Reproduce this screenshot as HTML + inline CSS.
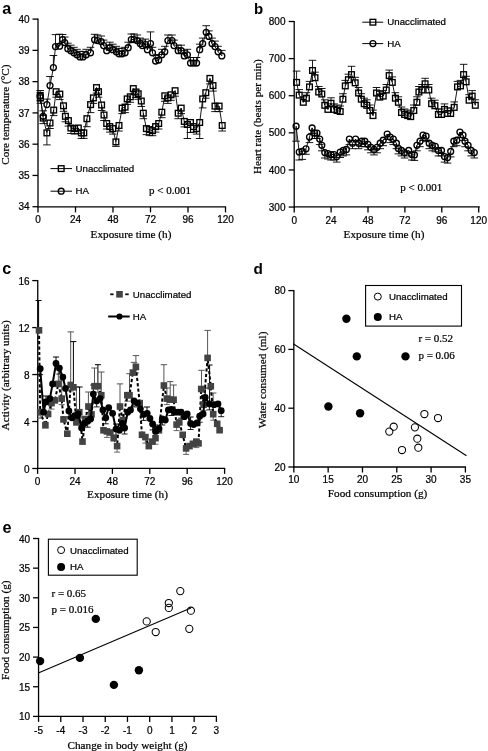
<!DOCTYPE html>
<html><head><meta charset="utf-8"><style>
html,body{margin:0;padding:0;background:#fff;}
body{width:488px;height:751px;overflow:hidden;}
svg{display:block;}
#wrap{will-change:transform;}
</style></head><body>
<div id="wrap"><svg width="488" height="751" viewBox="0 0 488 751">
<rect width="488" height="751" fill="#fff"/>
<text x="2.3" y="14.3" style='font-family:"Liberation Sans", sans-serif;font-size:16.2px;font-weight:bold' text-anchor="start" fill="#000">a</text>
<line x1="38" y1="18.5" x2="38" y2="207.3" stroke="#000" stroke-width="1.3" />
<line x1="32.5" y1="19.1" x2="38" y2="19.1" stroke="#000" stroke-width="1.3" />
<text x="29.6" y="22.7" style='font-family:"Liberation Sans", sans-serif;font-size:10px;font-weight:normal' text-anchor="end" fill="#000" stroke="#000" stroke-width="0.22">40</text>
<line x1="32.5" y1="50.37" x2="38" y2="50.37" stroke="#000" stroke-width="1.3" />
<text x="29.6" y="53.97" style='font-family:"Liberation Sans", sans-serif;font-size:10px;font-weight:normal' text-anchor="end" fill="#000" stroke="#000" stroke-width="0.22">39</text>
<line x1="32.5" y1="81.64" x2="38" y2="81.64" stroke="#000" stroke-width="1.3" />
<text x="29.6" y="85.24" style='font-family:"Liberation Sans", sans-serif;font-size:10px;font-weight:normal' text-anchor="end" fill="#000" stroke="#000" stroke-width="0.22">38</text>
<line x1="32.5" y1="112.91" x2="38" y2="112.91" stroke="#000" stroke-width="1.3" />
<text x="29.6" y="116.51" style='font-family:"Liberation Sans", sans-serif;font-size:10px;font-weight:normal' text-anchor="end" fill="#000" stroke="#000" stroke-width="0.22">37</text>
<line x1="32.5" y1="144.18" x2="38" y2="144.18" stroke="#000" stroke-width="1.3" />
<text x="29.6" y="147.78" style='font-family:"Liberation Sans", sans-serif;font-size:10px;font-weight:normal' text-anchor="end" fill="#000" stroke="#000" stroke-width="0.22">36</text>
<line x1="32.5" y1="175.45" x2="38" y2="175.45" stroke="#000" stroke-width="1.3" />
<text x="29.6" y="179.05" style='font-family:"Liberation Sans", sans-serif;font-size:10px;font-weight:normal' text-anchor="end" fill="#000" stroke="#000" stroke-width="0.22">35</text>
<line x1="32.5" y1="206.72" x2="38" y2="206.72" stroke="#000" stroke-width="1.3" />
<text x="29.6" y="210.32" style='font-family:"Liberation Sans", sans-serif;font-size:10px;font-weight:normal' text-anchor="end" fill="#000" stroke="#000" stroke-width="0.22">34</text>
<line x1="37.4" y1="206.9" x2="226.1" y2="206.9" stroke="#000" stroke-width="1.3" />
<line x1="38" y1="206.9" x2="38" y2="212.4" stroke="#000" stroke-width="1.3" />
<text x="38" y="223.2" style='font-family:"Liberation Sans", sans-serif;font-size:10px;font-weight:normal' text-anchor="middle" fill="#000" stroke="#000" stroke-width="0.22">0</text>
<line x1="75.5" y1="206.9" x2="75.5" y2="212.4" stroke="#000" stroke-width="1.3" />
<text x="75.5" y="223.2" style='font-family:"Liberation Sans", sans-serif;font-size:10px;font-weight:normal' text-anchor="middle" fill="#000" stroke="#000" stroke-width="0.22">24</text>
<line x1="113" y1="206.9" x2="113" y2="212.4" stroke="#000" stroke-width="1.3" />
<text x="113" y="223.2" style='font-family:"Liberation Sans", sans-serif;font-size:10px;font-weight:normal' text-anchor="middle" fill="#000" stroke="#000" stroke-width="0.22">48</text>
<line x1="150.5" y1="206.9" x2="150.5" y2="212.4" stroke="#000" stroke-width="1.3" />
<text x="150.5" y="223.2" style='font-family:"Liberation Sans", sans-serif;font-size:10px;font-weight:normal' text-anchor="middle" fill="#000" stroke="#000" stroke-width="0.22">72</text>
<line x1="188" y1="206.9" x2="188" y2="212.4" stroke="#000" stroke-width="1.3" />
<text x="188" y="223.2" style='font-family:"Liberation Sans", sans-serif;font-size:10px;font-weight:normal' text-anchor="middle" fill="#000" stroke="#000" stroke-width="0.22">96</text>
<line x1="225.5" y1="206.9" x2="225.5" y2="212.4" stroke="#000" stroke-width="1.3" />
<text x="225.5" y="223.2" style='font-family:"Liberation Sans", sans-serif;font-size:10px;font-weight:normal' text-anchor="middle" fill="#000" stroke="#000" stroke-width="0.22">120</text>
<text x="131" y="238.3" style='font-family:"Liberation Serif", serif;font-size:11.2px;font-weight:normal' text-anchor="middle" fill="#000" stroke="#000" stroke-width="0.22">Exposure time (h)</text>
<text x="9.4" y="114.6" style='font-family:"Liberation Serif", serif;font-size:11.2px;font-weight:normal' text-anchor="middle" fill="#000" stroke="#000" stroke-width="0.22" transform="rotate(-90 9.4 114.6)">Core temperature (°C)</text>
<polyline points="40.2,96 43.2,116.3 46.9,104.6 50,85.5 53.4,67.5 55.5,46.6 59.6,46.2 62.6,39.5 64.7,42.5 67.8,48.7 70.8,50.7 73.9,52.8 77,54.8 80,56.9 83,56.9 86.2,54.8 90.5,52.8 94.6,39.8 97.5,40.5 101.2,41.5 103.6,45.6 106.7,50.7 109.8,47.7 112.8,49.7 116.3,51.8 119,53.8 122,53.8 125.1,52.8 128.2,47.7 131.3,39.5 134.1,39.5 137.2,40.5 140.2,43.6 142.3,45.6 145.4,44.6 147.4,49.7 150.5,43.6 152.5,52.8 155.6,61 158.7,60 161.8,54.8 164.8,51.8 167.9,40.5 172,40.5 174,45.6 178.2,50.7 181.2,50.7 184.3,55.9 187.4,54.8 190.5,63 193.5,63 196.6,63 199.7,49.7 202.7,43.6 206.2,32.3 208.9,36.4 212,43.6 215,46.6 218.1,51.8 221.8,55.9" fill="none" stroke="#000" stroke-width="0.9" stroke-linejoin="round" />
<polyline points="40.2,95.4 40.4,97.8 43.2,118.1 46.9,132.9 50,123 53.7,110.1 56.1,91.7 59.8,94.1 63.5,105.8 65.4,116.3 68.4,120.6 70.9,128 74.6,128.6 78.3,128 81.4,132.9 83.8,132.9 86.9,118.7 90.6,104.6 93.4,97.9 96.5,87.6 98.5,91.7 101.6,105 104,115 106.7,123.5 109.8,126.6 112.8,128.6 115.9,141.9 119,125.5 122.1,108.1 125.1,107.1 127.2,98.9 130.3,96.8 133.3,88.6 136,92 138.2,93.8 141.3,101 143.3,113.2 146.4,128.6 149.5,129.6 152.5,130.7 155.6,126.6 158.7,123.5 161.8,112.2 164.8,95.8 167.9,97.9 171,94.8 175.1,90.7 178.2,113.2 181.2,108.1 184.3,121.4 187.4,124.5 190.5,122.5 193.5,126.6 196.6,128.6 199.7,122.5 202.7,98.9 205.8,92.7 209.9,78.4 213,85.6 215,106.1 219.1,106.1 222.2,125.5" fill="none" stroke="#000" stroke-width="0.9" stroke-linejoin="round" />
<line x1="40.2" y1="96" x2="40.2" y2="90.5" stroke="#000" stroke-width="0.9" />
<line x1="36.4" y1="90.5" x2="44" y2="90.5" stroke="#000" stroke-width="0.9" />
<line x1="43.2" y1="116.3" x2="43.2" y2="110.8" stroke="#000" stroke-width="0.9" />
<line x1="39.4" y1="110.8" x2="47" y2="110.8" stroke="#000" stroke-width="0.9" />
<line x1="46.9" y1="104.6" x2="46.9" y2="99.1" stroke="#000" stroke-width="0.9" />
<line x1="43.1" y1="99.1" x2="50.7" y2="99.1" stroke="#000" stroke-width="0.9" />
<line x1="50" y1="85.5" x2="50" y2="76.5" stroke="#000" stroke-width="0.9" />
<line x1="46.2" y1="76.5" x2="53.8" y2="76.5" stroke="#000" stroke-width="0.9" />
<line x1="53.4" y1="67.5" x2="53.4" y2="55.5" stroke="#000" stroke-width="0.9" />
<line x1="49.6" y1="55.5" x2="57.2" y2="55.5" stroke="#000" stroke-width="0.9" />
<line x1="55.5" y1="46.6" x2="55.5" y2="34.6" stroke="#000" stroke-width="0.9" />
<line x1="51.7" y1="34.6" x2="59.3" y2="34.6" stroke="#000" stroke-width="0.9" />
<line x1="59.6" y1="46.2" x2="59.6" y2="34.2" stroke="#000" stroke-width="0.9" />
<line x1="55.8" y1="34.2" x2="63.4" y2="34.2" stroke="#000" stroke-width="0.9" />
<line x1="62.6" y1="39.5" x2="62.6" y2="34.5" stroke="#000" stroke-width="0.9" />
<line x1="58.8" y1="34.5" x2="66.4" y2="34.5" stroke="#000" stroke-width="0.9" />
<line x1="64.7" y1="42.5" x2="64.7" y2="37" stroke="#000" stroke-width="0.9" />
<line x1="60.9" y1="37" x2="68.5" y2="37" stroke="#000" stroke-width="0.9" />
<line x1="67.8" y1="48.7" x2="67.8" y2="43.2" stroke="#000" stroke-width="0.9" />
<line x1="64" y1="43.2" x2="71.6" y2="43.2" stroke="#000" stroke-width="0.9" />
<line x1="70.8" y1="50.7" x2="70.8" y2="45.2" stroke="#000" stroke-width="0.9" />
<line x1="67" y1="45.2" x2="74.6" y2="45.2" stroke="#000" stroke-width="0.9" />
<line x1="73.9" y1="52.8" x2="73.9" y2="47.3" stroke="#000" stroke-width="0.9" />
<line x1="70.1" y1="47.3" x2="77.7" y2="47.3" stroke="#000" stroke-width="0.9" />
<line x1="77" y1="54.8" x2="77" y2="49.3" stroke="#000" stroke-width="0.9" />
<line x1="73.2" y1="49.3" x2="80.8" y2="49.3" stroke="#000" stroke-width="0.9" />
<line x1="80" y1="56.9" x2="80" y2="51.4" stroke="#000" stroke-width="0.9" />
<line x1="76.2" y1="51.4" x2="83.8" y2="51.4" stroke="#000" stroke-width="0.9" />
<line x1="83" y1="56.9" x2="83" y2="51.4" stroke="#000" stroke-width="0.9" />
<line x1="79.2" y1="51.4" x2="86.8" y2="51.4" stroke="#000" stroke-width="0.9" />
<line x1="86.2" y1="54.8" x2="86.2" y2="49.3" stroke="#000" stroke-width="0.9" />
<line x1="82.4" y1="49.3" x2="90" y2="49.3" stroke="#000" stroke-width="0.9" />
<line x1="90.5" y1="52.8" x2="90.5" y2="47.3" stroke="#000" stroke-width="0.9" />
<line x1="86.7" y1="47.3" x2="94.3" y2="47.3" stroke="#000" stroke-width="0.9" />
<line x1="94.6" y1="39.8" x2="94.6" y2="34.3" stroke="#000" stroke-width="0.9" />
<line x1="90.8" y1="34.3" x2="98.4" y2="34.3" stroke="#000" stroke-width="0.9" />
<line x1="97.5" y1="40.5" x2="97.5" y2="35" stroke="#000" stroke-width="0.9" />
<line x1="93.7" y1="35" x2="101.3" y2="35" stroke="#000" stroke-width="0.9" />
<line x1="101.2" y1="41.5" x2="101.2" y2="36" stroke="#000" stroke-width="0.9" />
<line x1="97.4" y1="36" x2="105" y2="36" stroke="#000" stroke-width="0.9" />
<line x1="103.6" y1="45.6" x2="103.6" y2="40.1" stroke="#000" stroke-width="0.9" />
<line x1="99.8" y1="40.1" x2="107.4" y2="40.1" stroke="#000" stroke-width="0.9" />
<line x1="106.7" y1="50.7" x2="106.7" y2="45.2" stroke="#000" stroke-width="0.9" />
<line x1="102.9" y1="45.2" x2="110.5" y2="45.2" stroke="#000" stroke-width="0.9" />
<line x1="109.8" y1="47.7" x2="109.8" y2="42.2" stroke="#000" stroke-width="0.9" />
<line x1="106" y1="42.2" x2="113.6" y2="42.2" stroke="#000" stroke-width="0.9" />
<line x1="112.8" y1="49.7" x2="112.8" y2="44.2" stroke="#000" stroke-width="0.9" />
<line x1="109" y1="44.2" x2="116.6" y2="44.2" stroke="#000" stroke-width="0.9" />
<line x1="116.3" y1="51.8" x2="116.3" y2="46.3" stroke="#000" stroke-width="0.9" />
<line x1="112.5" y1="46.3" x2="120.1" y2="46.3" stroke="#000" stroke-width="0.9" />
<line x1="119" y1="53.8" x2="119" y2="48.3" stroke="#000" stroke-width="0.9" />
<line x1="115.2" y1="48.3" x2="122.8" y2="48.3" stroke="#000" stroke-width="0.9" />
<line x1="122" y1="53.8" x2="122" y2="48.3" stroke="#000" stroke-width="0.9" />
<line x1="118.2" y1="48.3" x2="125.8" y2="48.3" stroke="#000" stroke-width="0.9" />
<line x1="125.1" y1="52.8" x2="125.1" y2="47.3" stroke="#000" stroke-width="0.9" />
<line x1="121.3" y1="47.3" x2="128.9" y2="47.3" stroke="#000" stroke-width="0.9" />
<line x1="128.2" y1="47.7" x2="128.2" y2="42.2" stroke="#000" stroke-width="0.9" />
<line x1="124.4" y1="42.2" x2="132" y2="42.2" stroke="#000" stroke-width="0.9" />
<line x1="131.3" y1="39.5" x2="131.3" y2="34" stroke="#000" stroke-width="0.9" />
<line x1="127.5" y1="34" x2="135.1" y2="34" stroke="#000" stroke-width="0.9" />
<line x1="134.1" y1="39.5" x2="134.1" y2="34" stroke="#000" stroke-width="0.9" />
<line x1="130.3" y1="34" x2="137.9" y2="34" stroke="#000" stroke-width="0.9" />
<line x1="137.2" y1="40.5" x2="137.2" y2="35" stroke="#000" stroke-width="0.9" />
<line x1="133.4" y1="35" x2="141" y2="35" stroke="#000" stroke-width="0.9" />
<line x1="140.2" y1="43.6" x2="140.2" y2="38.1" stroke="#000" stroke-width="0.9" />
<line x1="136.4" y1="38.1" x2="144" y2="38.1" stroke="#000" stroke-width="0.9" />
<line x1="142.3" y1="45.6" x2="142.3" y2="40.1" stroke="#000" stroke-width="0.9" />
<line x1="138.5" y1="40.1" x2="146.1" y2="40.1" stroke="#000" stroke-width="0.9" />
<line x1="145.4" y1="44.6" x2="145.4" y2="39.1" stroke="#000" stroke-width="0.9" />
<line x1="141.6" y1="39.1" x2="149.2" y2="39.1" stroke="#000" stroke-width="0.9" />
<line x1="147.4" y1="49.7" x2="147.4" y2="44.2" stroke="#000" stroke-width="0.9" />
<line x1="143.6" y1="44.2" x2="151.2" y2="44.2" stroke="#000" stroke-width="0.9" />
<line x1="150.5" y1="43.6" x2="150.5" y2="31.9" stroke="#000" stroke-width="0.9" />
<line x1="146.7" y1="31.9" x2="154.3" y2="31.9" stroke="#000" stroke-width="0.9" />
<line x1="152.5" y1="52.8" x2="152.5" y2="47.3" stroke="#000" stroke-width="0.9" />
<line x1="148.7" y1="47.3" x2="156.3" y2="47.3" stroke="#000" stroke-width="0.9" />
<line x1="155.6" y1="61" x2="155.6" y2="55.5" stroke="#000" stroke-width="0.9" />
<line x1="151.8" y1="55.5" x2="159.4" y2="55.5" stroke="#000" stroke-width="0.9" />
<line x1="158.7" y1="60" x2="158.7" y2="54.5" stroke="#000" stroke-width="0.9" />
<line x1="154.9" y1="54.5" x2="162.5" y2="54.5" stroke="#000" stroke-width="0.9" />
<line x1="161.8" y1="54.8" x2="161.8" y2="49.3" stroke="#000" stroke-width="0.9" />
<line x1="158" y1="49.3" x2="165.6" y2="49.3" stroke="#000" stroke-width="0.9" />
<line x1="164.8" y1="51.8" x2="164.8" y2="46.3" stroke="#000" stroke-width="0.9" />
<line x1="161" y1="46.3" x2="168.6" y2="46.3" stroke="#000" stroke-width="0.9" />
<line x1="167.9" y1="40.5" x2="167.9" y2="35" stroke="#000" stroke-width="0.9" />
<line x1="164.1" y1="35" x2="171.7" y2="35" stroke="#000" stroke-width="0.9" />
<line x1="172" y1="40.5" x2="172" y2="35" stroke="#000" stroke-width="0.9" />
<line x1="168.2" y1="35" x2="175.8" y2="35" stroke="#000" stroke-width="0.9" />
<line x1="174" y1="45.6" x2="174" y2="40.1" stroke="#000" stroke-width="0.9" />
<line x1="170.2" y1="40.1" x2="177.8" y2="40.1" stroke="#000" stroke-width="0.9" />
<line x1="178.2" y1="50.7" x2="178.2" y2="45.2" stroke="#000" stroke-width="0.9" />
<line x1="174.4" y1="45.2" x2="182" y2="45.2" stroke="#000" stroke-width="0.9" />
<line x1="181.2" y1="50.7" x2="181.2" y2="45.2" stroke="#000" stroke-width="0.9" />
<line x1="177.4" y1="45.2" x2="185" y2="45.2" stroke="#000" stroke-width="0.9" />
<line x1="184.3" y1="55.9" x2="184.3" y2="50.4" stroke="#000" stroke-width="0.9" />
<line x1="180.5" y1="50.4" x2="188.1" y2="50.4" stroke="#000" stroke-width="0.9" />
<line x1="187.4" y1="54.8" x2="187.4" y2="49.3" stroke="#000" stroke-width="0.9" />
<line x1="183.6" y1="49.3" x2="191.2" y2="49.3" stroke="#000" stroke-width="0.9" />
<line x1="190.5" y1="63" x2="190.5" y2="57.5" stroke="#000" stroke-width="0.9" />
<line x1="186.7" y1="57.5" x2="194.3" y2="57.5" stroke="#000" stroke-width="0.9" />
<line x1="193.5" y1="63" x2="193.5" y2="57.5" stroke="#000" stroke-width="0.9" />
<line x1="189.7" y1="57.5" x2="197.3" y2="57.5" stroke="#000" stroke-width="0.9" />
<line x1="196.6" y1="63" x2="196.6" y2="57.5" stroke="#000" stroke-width="0.9" />
<line x1="192.8" y1="57.5" x2="200.4" y2="57.5" stroke="#000" stroke-width="0.9" />
<line x1="199.7" y1="49.7" x2="199.7" y2="44.2" stroke="#000" stroke-width="0.9" />
<line x1="195.9" y1="44.2" x2="203.5" y2="44.2" stroke="#000" stroke-width="0.9" />
<line x1="202.7" y1="43.6" x2="202.7" y2="38.1" stroke="#000" stroke-width="0.9" />
<line x1="198.9" y1="38.1" x2="206.5" y2="38.1" stroke="#000" stroke-width="0.9" />
<line x1="206.2" y1="32.3" x2="206.2" y2="25.7" stroke="#000" stroke-width="0.9" />
<line x1="202.4" y1="25.7" x2="210" y2="25.7" stroke="#000" stroke-width="0.9" />
<line x1="208.9" y1="36.4" x2="208.9" y2="30.9" stroke="#000" stroke-width="0.9" />
<line x1="205.1" y1="30.9" x2="212.7" y2="30.9" stroke="#000" stroke-width="0.9" />
<line x1="212" y1="43.6" x2="212" y2="38.1" stroke="#000" stroke-width="0.9" />
<line x1="208.2" y1="38.1" x2="215.8" y2="38.1" stroke="#000" stroke-width="0.9" />
<line x1="215" y1="46.6" x2="215" y2="41.1" stroke="#000" stroke-width="0.9" />
<line x1="211.2" y1="41.1" x2="218.8" y2="41.1" stroke="#000" stroke-width="0.9" />
<line x1="218.1" y1="51.8" x2="218.1" y2="46.3" stroke="#000" stroke-width="0.9" />
<line x1="214.3" y1="46.3" x2="221.9" y2="46.3" stroke="#000" stroke-width="0.9" />
<line x1="221.8" y1="55.9" x2="221.8" y2="50.4" stroke="#000" stroke-width="0.9" />
<line x1="218" y1="50.4" x2="225.6" y2="50.4" stroke="#000" stroke-width="0.9" />
<line x1="40.2" y1="95.4" x2="40.2" y2="100.9" stroke="#000" stroke-width="0.9" />
<line x1="36.4" y1="100.9" x2="44" y2="100.9" stroke="#000" stroke-width="0.9" />
<line x1="40.4" y1="97.8" x2="40.4" y2="103.3" stroke="#000" stroke-width="0.9" />
<line x1="36.6" y1="103.3" x2="44.2" y2="103.3" stroke="#000" stroke-width="0.9" />
<line x1="43.2" y1="118.1" x2="43.2" y2="123.6" stroke="#000" stroke-width="0.9" />
<line x1="39.4" y1="123.6" x2="47" y2="123.6" stroke="#000" stroke-width="0.9" />
<line x1="46.9" y1="132.9" x2="46.9" y2="144.9" stroke="#000" stroke-width="0.9" />
<line x1="43.1" y1="144.9" x2="50.7" y2="144.9" stroke="#000" stroke-width="0.9" />
<line x1="50" y1="123" x2="50" y2="128.5" stroke="#000" stroke-width="0.9" />
<line x1="46.2" y1="128.5" x2="53.8" y2="128.5" stroke="#000" stroke-width="0.9" />
<line x1="53.7" y1="110.1" x2="53.7" y2="115.6" stroke="#000" stroke-width="0.9" />
<line x1="49.9" y1="115.6" x2="57.5" y2="115.6" stroke="#000" stroke-width="0.9" />
<line x1="56.1" y1="91.7" x2="56.1" y2="97.2" stroke="#000" stroke-width="0.9" />
<line x1="52.3" y1="97.2" x2="59.9" y2="97.2" stroke="#000" stroke-width="0.9" />
<line x1="59.8" y1="94.1" x2="59.8" y2="99.6" stroke="#000" stroke-width="0.9" />
<line x1="56" y1="99.6" x2="63.6" y2="99.6" stroke="#000" stroke-width="0.9" />
<line x1="63.5" y1="105.8" x2="63.5" y2="111.3" stroke="#000" stroke-width="0.9" />
<line x1="59.7" y1="111.3" x2="67.3" y2="111.3" stroke="#000" stroke-width="0.9" />
<line x1="65.4" y1="116.3" x2="65.4" y2="121.8" stroke="#000" stroke-width="0.9" />
<line x1="61.6" y1="121.8" x2="69.2" y2="121.8" stroke="#000" stroke-width="0.9" />
<line x1="68.4" y1="120.6" x2="68.4" y2="126.1" stroke="#000" stroke-width="0.9" />
<line x1="64.6" y1="126.1" x2="72.2" y2="126.1" stroke="#000" stroke-width="0.9" />
<line x1="70.9" y1="128" x2="70.9" y2="133.5" stroke="#000" stroke-width="0.9" />
<line x1="67.1" y1="133.5" x2="74.7" y2="133.5" stroke="#000" stroke-width="0.9" />
<line x1="74.6" y1="128.6" x2="74.6" y2="134.1" stroke="#000" stroke-width="0.9" />
<line x1="70.8" y1="134.1" x2="78.4" y2="134.1" stroke="#000" stroke-width="0.9" />
<line x1="78.3" y1="128" x2="78.3" y2="133.5" stroke="#000" stroke-width="0.9" />
<line x1="74.5" y1="133.5" x2="82.1" y2="133.5" stroke="#000" stroke-width="0.9" />
<line x1="81.4" y1="132.9" x2="81.4" y2="138.4" stroke="#000" stroke-width="0.9" />
<line x1="77.6" y1="138.4" x2="85.2" y2="138.4" stroke="#000" stroke-width="0.9" />
<line x1="83.8" y1="132.9" x2="83.8" y2="138.4" stroke="#000" stroke-width="0.9" />
<line x1="80" y1="138.4" x2="87.6" y2="138.4" stroke="#000" stroke-width="0.9" />
<line x1="86.9" y1="118.7" x2="86.9" y2="126.7" stroke="#000" stroke-width="0.9" />
<line x1="83.1" y1="126.7" x2="90.7" y2="126.7" stroke="#000" stroke-width="0.9" />
<line x1="90.6" y1="104.6" x2="90.6" y2="112.6" stroke="#000" stroke-width="0.9" />
<line x1="86.8" y1="112.6" x2="94.4" y2="112.6" stroke="#000" stroke-width="0.9" />
<line x1="93.4" y1="97.9" x2="93.4" y2="103.4" stroke="#000" stroke-width="0.9" />
<line x1="89.6" y1="103.4" x2="97.2" y2="103.4" stroke="#000" stroke-width="0.9" />
<line x1="96.5" y1="87.6" x2="96.5" y2="93.1" stroke="#000" stroke-width="0.9" />
<line x1="92.7" y1="93.1" x2="100.3" y2="93.1" stroke="#000" stroke-width="0.9" />
<line x1="98.5" y1="91.7" x2="98.5" y2="97.2" stroke="#000" stroke-width="0.9" />
<line x1="94.7" y1="97.2" x2="102.3" y2="97.2" stroke="#000" stroke-width="0.9" />
<line x1="101.6" y1="105" x2="101.6" y2="110.5" stroke="#000" stroke-width="0.9" />
<line x1="97.8" y1="110.5" x2="105.4" y2="110.5" stroke="#000" stroke-width="0.9" />
<line x1="104" y1="115" x2="104" y2="120.5" stroke="#000" stroke-width="0.9" />
<line x1="100.2" y1="120.5" x2="107.8" y2="120.5" stroke="#000" stroke-width="0.9" />
<line x1="106.7" y1="123.5" x2="106.7" y2="129" stroke="#000" stroke-width="0.9" />
<line x1="102.9" y1="129" x2="110.5" y2="129" stroke="#000" stroke-width="0.9" />
<line x1="109.8" y1="126.6" x2="109.8" y2="132.1" stroke="#000" stroke-width="0.9" />
<line x1="106" y1="132.1" x2="113.6" y2="132.1" stroke="#000" stroke-width="0.9" />
<line x1="112.8" y1="128.6" x2="112.8" y2="134.1" stroke="#000" stroke-width="0.9" />
<line x1="109" y1="134.1" x2="116.6" y2="134.1" stroke="#000" stroke-width="0.9" />
<line x1="115.9" y1="141.9" x2="115.9" y2="146.4" stroke="#000" stroke-width="0.9" />
<line x1="112.1" y1="146.4" x2="119.7" y2="146.4" stroke="#000" stroke-width="0.9" />
<line x1="119" y1="125.5" x2="119" y2="131" stroke="#000" stroke-width="0.9" />
<line x1="115.2" y1="131" x2="122.8" y2="131" stroke="#000" stroke-width="0.9" />
<line x1="122.1" y1="108.1" x2="122.1" y2="113.6" stroke="#000" stroke-width="0.9" />
<line x1="118.3" y1="113.6" x2="125.9" y2="113.6" stroke="#000" stroke-width="0.9" />
<line x1="125.1" y1="107.1" x2="125.1" y2="112.6" stroke="#000" stroke-width="0.9" />
<line x1="121.3" y1="112.6" x2="128.9" y2="112.6" stroke="#000" stroke-width="0.9" />
<line x1="127.2" y1="98.9" x2="127.2" y2="104.4" stroke="#000" stroke-width="0.9" />
<line x1="123.4" y1="104.4" x2="131" y2="104.4" stroke="#000" stroke-width="0.9" />
<line x1="130.3" y1="96.8" x2="130.3" y2="102.3" stroke="#000" stroke-width="0.9" />
<line x1="126.5" y1="102.3" x2="134.1" y2="102.3" stroke="#000" stroke-width="0.9" />
<line x1="133.3" y1="88.6" x2="133.3" y2="94.1" stroke="#000" stroke-width="0.9" />
<line x1="129.5" y1="94.1" x2="137.1" y2="94.1" stroke="#000" stroke-width="0.9" />
<line x1="136" y1="92" x2="136" y2="97.5" stroke="#000" stroke-width="0.9" />
<line x1="132.2" y1="97.5" x2="139.8" y2="97.5" stroke="#000" stroke-width="0.9" />
<line x1="138.2" y1="93.8" x2="138.2" y2="99.3" stroke="#000" stroke-width="0.9" />
<line x1="134.4" y1="99.3" x2="142" y2="99.3" stroke="#000" stroke-width="0.9" />
<line x1="141.3" y1="101" x2="141.3" y2="106.5" stroke="#000" stroke-width="0.9" />
<line x1="137.5" y1="106.5" x2="145.1" y2="106.5" stroke="#000" stroke-width="0.9" />
<line x1="143.3" y1="113.2" x2="143.3" y2="118.7" stroke="#000" stroke-width="0.9" />
<line x1="139.5" y1="118.7" x2="147.1" y2="118.7" stroke="#000" stroke-width="0.9" />
<line x1="146.4" y1="128.6" x2="146.4" y2="134.6" stroke="#000" stroke-width="0.9" />
<line x1="142.6" y1="134.6" x2="150.2" y2="134.6" stroke="#000" stroke-width="0.9" />
<line x1="149.5" y1="129.6" x2="149.5" y2="135.6" stroke="#000" stroke-width="0.9" />
<line x1="145.7" y1="135.6" x2="153.3" y2="135.6" stroke="#000" stroke-width="0.9" />
<line x1="152.5" y1="130.7" x2="152.5" y2="135.7" stroke="#000" stroke-width="0.9" />
<line x1="148.7" y1="135.7" x2="156.3" y2="135.7" stroke="#000" stroke-width="0.9" />
<line x1="155.6" y1="126.6" x2="155.6" y2="132.1" stroke="#000" stroke-width="0.9" />
<line x1="151.8" y1="132.1" x2="159.4" y2="132.1" stroke="#000" stroke-width="0.9" />
<line x1="158.7" y1="123.5" x2="158.7" y2="129" stroke="#000" stroke-width="0.9" />
<line x1="154.9" y1="129" x2="162.5" y2="129" stroke="#000" stroke-width="0.9" />
<line x1="161.8" y1="112.2" x2="161.8" y2="117.7" stroke="#000" stroke-width="0.9" />
<line x1="158" y1="117.7" x2="165.6" y2="117.7" stroke="#000" stroke-width="0.9" />
<line x1="164.8" y1="95.8" x2="164.8" y2="101.3" stroke="#000" stroke-width="0.9" />
<line x1="161" y1="101.3" x2="168.6" y2="101.3" stroke="#000" stroke-width="0.9" />
<line x1="167.9" y1="97.9" x2="167.9" y2="103.4" stroke="#000" stroke-width="0.9" />
<line x1="164.1" y1="103.4" x2="171.7" y2="103.4" stroke="#000" stroke-width="0.9" />
<line x1="171" y1="94.8" x2="171" y2="100.3" stroke="#000" stroke-width="0.9" />
<line x1="167.2" y1="100.3" x2="174.8" y2="100.3" stroke="#000" stroke-width="0.9" />
<line x1="175.1" y1="90.7" x2="175.1" y2="96.2" stroke="#000" stroke-width="0.9" />
<line x1="171.3" y1="96.2" x2="178.9" y2="96.2" stroke="#000" stroke-width="0.9" />
<line x1="178.2" y1="113.2" x2="178.2" y2="118.7" stroke="#000" stroke-width="0.9" />
<line x1="174.4" y1="118.7" x2="182" y2="118.7" stroke="#000" stroke-width="0.9" />
<line x1="181.2" y1="108.1" x2="181.2" y2="113.6" stroke="#000" stroke-width="0.9" />
<line x1="177.4" y1="113.6" x2="185" y2="113.6" stroke="#000" stroke-width="0.9" />
<line x1="184.3" y1="121.4" x2="184.3" y2="126.9" stroke="#000" stroke-width="0.9" />
<line x1="180.5" y1="126.9" x2="188.1" y2="126.9" stroke="#000" stroke-width="0.9" />
<line x1="187.4" y1="124.5" x2="187.4" y2="138.5" stroke="#000" stroke-width="0.9" />
<line x1="183.6" y1="138.5" x2="191.2" y2="138.5" stroke="#000" stroke-width="0.9" />
<line x1="190.5" y1="122.5" x2="190.5" y2="132.5" stroke="#000" stroke-width="0.9" />
<line x1="186.7" y1="132.5" x2="194.3" y2="132.5" stroke="#000" stroke-width="0.9" />
<line x1="193.5" y1="126.6" x2="193.5" y2="132.1" stroke="#000" stroke-width="0.9" />
<line x1="189.7" y1="132.1" x2="197.3" y2="132.1" stroke="#000" stroke-width="0.9" />
<line x1="196.6" y1="128.6" x2="196.6" y2="134.1" stroke="#000" stroke-width="0.9" />
<line x1="192.8" y1="134.1" x2="200.4" y2="134.1" stroke="#000" stroke-width="0.9" />
<line x1="199.7" y1="122.5" x2="199.7" y2="138.5" stroke="#000" stroke-width="0.9" />
<line x1="195.9" y1="138.5" x2="203.5" y2="138.5" stroke="#000" stroke-width="0.9" />
<line x1="202.7" y1="98.9" x2="202.7" y2="107.9" stroke="#000" stroke-width="0.9" />
<line x1="198.9" y1="107.9" x2="206.5" y2="107.9" stroke="#000" stroke-width="0.9" />
<line x1="205.8" y1="92.7" x2="205.8" y2="98.2" stroke="#000" stroke-width="0.9" />
<line x1="202" y1="98.2" x2="209.6" y2="98.2" stroke="#000" stroke-width="0.9" />
<line x1="209.9" y1="78.4" x2="209.9" y2="83.9" stroke="#000" stroke-width="0.9" />
<line x1="206.1" y1="83.9" x2="213.7" y2="83.9" stroke="#000" stroke-width="0.9" />
<line x1="213" y1="85.6" x2="213" y2="91.1" stroke="#000" stroke-width="0.9" />
<line x1="209.2" y1="91.1" x2="216.8" y2="91.1" stroke="#000" stroke-width="0.9" />
<line x1="215" y1="106.1" x2="215" y2="111.6" stroke="#000" stroke-width="0.9" />
<line x1="211.2" y1="111.6" x2="218.8" y2="111.6" stroke="#000" stroke-width="0.9" />
<line x1="219.1" y1="106.1" x2="219.1" y2="111.6" stroke="#000" stroke-width="0.9" />
<line x1="215.3" y1="111.6" x2="222.9" y2="111.6" stroke="#000" stroke-width="0.9" />
<line x1="222.2" y1="125.5" x2="222.2" y2="131" stroke="#000" stroke-width="0.9" />
<line x1="218.4" y1="131" x2="226" y2="131" stroke="#000" stroke-width="0.9" />
<circle cx="40.2" cy="96" r="2.95" fill="none" stroke="#000" stroke-width="1.35"/>
<circle cx="43.2" cy="116.3" r="2.95" fill="none" stroke="#000" stroke-width="1.35"/>
<circle cx="46.9" cy="104.6" r="2.95" fill="none" stroke="#000" stroke-width="1.35"/>
<circle cx="50" cy="85.5" r="2.95" fill="none" stroke="#000" stroke-width="1.35"/>
<circle cx="53.4" cy="67.5" r="2.95" fill="none" stroke="#000" stroke-width="1.35"/>
<circle cx="55.5" cy="46.6" r="2.95" fill="none" stroke="#000" stroke-width="1.35"/>
<circle cx="59.6" cy="46.2" r="2.95" fill="none" stroke="#000" stroke-width="1.35"/>
<circle cx="62.6" cy="39.5" r="2.95" fill="none" stroke="#000" stroke-width="1.35"/>
<circle cx="64.7" cy="42.5" r="2.95" fill="none" stroke="#000" stroke-width="1.35"/>
<circle cx="67.8" cy="48.7" r="2.95" fill="none" stroke="#000" stroke-width="1.35"/>
<circle cx="70.8" cy="50.7" r="2.95" fill="none" stroke="#000" stroke-width="1.35"/>
<circle cx="73.9" cy="52.8" r="2.95" fill="none" stroke="#000" stroke-width="1.35"/>
<circle cx="77" cy="54.8" r="2.95" fill="none" stroke="#000" stroke-width="1.35"/>
<circle cx="80" cy="56.9" r="2.95" fill="none" stroke="#000" stroke-width="1.35"/>
<circle cx="83" cy="56.9" r="2.95" fill="none" stroke="#000" stroke-width="1.35"/>
<circle cx="86.2" cy="54.8" r="2.95" fill="none" stroke="#000" stroke-width="1.35"/>
<circle cx="90.5" cy="52.8" r="2.95" fill="none" stroke="#000" stroke-width="1.35"/>
<circle cx="94.6" cy="39.8" r="2.95" fill="none" stroke="#000" stroke-width="1.35"/>
<circle cx="97.5" cy="40.5" r="2.95" fill="none" stroke="#000" stroke-width="1.35"/>
<circle cx="101.2" cy="41.5" r="2.95" fill="none" stroke="#000" stroke-width="1.35"/>
<circle cx="103.6" cy="45.6" r="2.95" fill="none" stroke="#000" stroke-width="1.35"/>
<circle cx="106.7" cy="50.7" r="2.95" fill="none" stroke="#000" stroke-width="1.35"/>
<circle cx="109.8" cy="47.7" r="2.95" fill="none" stroke="#000" stroke-width="1.35"/>
<circle cx="112.8" cy="49.7" r="2.95" fill="none" stroke="#000" stroke-width="1.35"/>
<circle cx="116.3" cy="51.8" r="2.95" fill="none" stroke="#000" stroke-width="1.35"/>
<circle cx="119" cy="53.8" r="2.95" fill="none" stroke="#000" stroke-width="1.35"/>
<circle cx="122" cy="53.8" r="2.95" fill="none" stroke="#000" stroke-width="1.35"/>
<circle cx="125.1" cy="52.8" r="2.95" fill="none" stroke="#000" stroke-width="1.35"/>
<circle cx="128.2" cy="47.7" r="2.95" fill="none" stroke="#000" stroke-width="1.35"/>
<circle cx="131.3" cy="39.5" r="2.95" fill="none" stroke="#000" stroke-width="1.35"/>
<circle cx="134.1" cy="39.5" r="2.95" fill="none" stroke="#000" stroke-width="1.35"/>
<circle cx="137.2" cy="40.5" r="2.95" fill="none" stroke="#000" stroke-width="1.35"/>
<circle cx="140.2" cy="43.6" r="2.95" fill="none" stroke="#000" stroke-width="1.35"/>
<circle cx="142.3" cy="45.6" r="2.95" fill="none" stroke="#000" stroke-width="1.35"/>
<circle cx="145.4" cy="44.6" r="2.95" fill="none" stroke="#000" stroke-width="1.35"/>
<circle cx="147.4" cy="49.7" r="2.95" fill="none" stroke="#000" stroke-width="1.35"/>
<circle cx="150.5" cy="43.6" r="2.95" fill="none" stroke="#000" stroke-width="1.35"/>
<circle cx="152.5" cy="52.8" r="2.95" fill="none" stroke="#000" stroke-width="1.35"/>
<circle cx="155.6" cy="61" r="2.95" fill="none" stroke="#000" stroke-width="1.35"/>
<circle cx="158.7" cy="60" r="2.95" fill="none" stroke="#000" stroke-width="1.35"/>
<circle cx="161.8" cy="54.8" r="2.95" fill="none" stroke="#000" stroke-width="1.35"/>
<circle cx="164.8" cy="51.8" r="2.95" fill="none" stroke="#000" stroke-width="1.35"/>
<circle cx="167.9" cy="40.5" r="2.95" fill="none" stroke="#000" stroke-width="1.35"/>
<circle cx="172" cy="40.5" r="2.95" fill="none" stroke="#000" stroke-width="1.35"/>
<circle cx="174" cy="45.6" r="2.95" fill="none" stroke="#000" stroke-width="1.35"/>
<circle cx="178.2" cy="50.7" r="2.95" fill="none" stroke="#000" stroke-width="1.35"/>
<circle cx="181.2" cy="50.7" r="2.95" fill="none" stroke="#000" stroke-width="1.35"/>
<circle cx="184.3" cy="55.9" r="2.95" fill="none" stroke="#000" stroke-width="1.35"/>
<circle cx="187.4" cy="54.8" r="2.95" fill="none" stroke="#000" stroke-width="1.35"/>
<circle cx="190.5" cy="63" r="2.95" fill="none" stroke="#000" stroke-width="1.35"/>
<circle cx="193.5" cy="63" r="2.95" fill="none" stroke="#000" stroke-width="1.35"/>
<circle cx="196.6" cy="63" r="2.95" fill="none" stroke="#000" stroke-width="1.35"/>
<circle cx="199.7" cy="49.7" r="2.95" fill="none" stroke="#000" stroke-width="1.35"/>
<circle cx="202.7" cy="43.6" r="2.95" fill="none" stroke="#000" stroke-width="1.35"/>
<circle cx="206.2" cy="32.3" r="2.95" fill="none" stroke="#000" stroke-width="1.35"/>
<circle cx="208.9" cy="36.4" r="2.95" fill="none" stroke="#000" stroke-width="1.35"/>
<circle cx="212" cy="43.6" r="2.95" fill="none" stroke="#000" stroke-width="1.35"/>
<circle cx="215" cy="46.6" r="2.95" fill="none" stroke="#000" stroke-width="1.35"/>
<circle cx="218.1" cy="51.8" r="2.95" fill="none" stroke="#000" stroke-width="1.35"/>
<circle cx="221.8" cy="55.9" r="2.95" fill="none" stroke="#000" stroke-width="1.35"/>
<rect x="37.35" y="92.55" width="5.7" height="5.7" fill="none" stroke="#000" stroke-width="1.35"/>
<rect x="37.55" y="94.95" width="5.7" height="5.7" fill="none" stroke="#000" stroke-width="1.35"/>
<rect x="40.35" y="115.25" width="5.7" height="5.7" fill="none" stroke="#000" stroke-width="1.35"/>
<rect x="44.05" y="130.05" width="5.7" height="5.7" fill="none" stroke="#000" stroke-width="1.35"/>
<rect x="47.15" y="120.15" width="5.7" height="5.7" fill="none" stroke="#000" stroke-width="1.35"/>
<rect x="50.85" y="107.25" width="5.7" height="5.7" fill="none" stroke="#000" stroke-width="1.35"/>
<rect x="53.25" y="88.85" width="5.7" height="5.7" fill="none" stroke="#000" stroke-width="1.35"/>
<rect x="56.95" y="91.25" width="5.7" height="5.7" fill="none" stroke="#000" stroke-width="1.35"/>
<rect x="60.65" y="102.95" width="5.7" height="5.7" fill="none" stroke="#000" stroke-width="1.35"/>
<rect x="62.55" y="113.45" width="5.7" height="5.7" fill="none" stroke="#000" stroke-width="1.35"/>
<rect x="65.55" y="117.75" width="5.7" height="5.7" fill="none" stroke="#000" stroke-width="1.35"/>
<rect x="68.05" y="125.15" width="5.7" height="5.7" fill="none" stroke="#000" stroke-width="1.35"/>
<rect x="71.75" y="125.75" width="5.7" height="5.7" fill="none" stroke="#000" stroke-width="1.35"/>
<rect x="75.45" y="125.15" width="5.7" height="5.7" fill="none" stroke="#000" stroke-width="1.35"/>
<rect x="78.55" y="130.05" width="5.7" height="5.7" fill="none" stroke="#000" stroke-width="1.35"/>
<rect x="80.95" y="130.05" width="5.7" height="5.7" fill="none" stroke="#000" stroke-width="1.35"/>
<rect x="84.05" y="115.85" width="5.7" height="5.7" fill="none" stroke="#000" stroke-width="1.35"/>
<rect x="87.75" y="101.75" width="5.7" height="5.7" fill="none" stroke="#000" stroke-width="1.35"/>
<rect x="90.55" y="95.05" width="5.7" height="5.7" fill="none" stroke="#000" stroke-width="1.35"/>
<rect x="93.65" y="84.75" width="5.7" height="5.7" fill="none" stroke="#000" stroke-width="1.35"/>
<rect x="95.65" y="88.85" width="5.7" height="5.7" fill="none" stroke="#000" stroke-width="1.35"/>
<rect x="98.75" y="102.15" width="5.7" height="5.7" fill="none" stroke="#000" stroke-width="1.35"/>
<rect x="101.15" y="112.15" width="5.7" height="5.7" fill="none" stroke="#000" stroke-width="1.35"/>
<rect x="103.85" y="120.65" width="5.7" height="5.7" fill="none" stroke="#000" stroke-width="1.35"/>
<rect x="106.95" y="123.75" width="5.7" height="5.7" fill="none" stroke="#000" stroke-width="1.35"/>
<rect x="109.95" y="125.75" width="5.7" height="5.7" fill="none" stroke="#000" stroke-width="1.35"/>
<rect x="113.05" y="139.05" width="5.7" height="5.7" fill="none" stroke="#000" stroke-width="1.35"/>
<rect x="116.15" y="122.65" width="5.7" height="5.7" fill="none" stroke="#000" stroke-width="1.35"/>
<rect x="119.25" y="105.25" width="5.7" height="5.7" fill="none" stroke="#000" stroke-width="1.35"/>
<rect x="122.25" y="104.25" width="5.7" height="5.7" fill="none" stroke="#000" stroke-width="1.35"/>
<rect x="124.35" y="96.05" width="5.7" height="5.7" fill="none" stroke="#000" stroke-width="1.35"/>
<rect x="127.45" y="93.95" width="5.7" height="5.7" fill="none" stroke="#000" stroke-width="1.35"/>
<rect x="130.45" y="85.75" width="5.7" height="5.7" fill="none" stroke="#000" stroke-width="1.35"/>
<rect x="133.15" y="89.15" width="5.7" height="5.7" fill="none" stroke="#000" stroke-width="1.35"/>
<rect x="135.35" y="90.95" width="5.7" height="5.7" fill="none" stroke="#000" stroke-width="1.35"/>
<rect x="138.45" y="98.15" width="5.7" height="5.7" fill="none" stroke="#000" stroke-width="1.35"/>
<rect x="140.45" y="110.35" width="5.7" height="5.7" fill="none" stroke="#000" stroke-width="1.35"/>
<rect x="143.55" y="125.75" width="5.7" height="5.7" fill="none" stroke="#000" stroke-width="1.35"/>
<rect x="146.65" y="126.75" width="5.7" height="5.7" fill="none" stroke="#000" stroke-width="1.35"/>
<rect x="149.65" y="127.85" width="5.7" height="5.7" fill="none" stroke="#000" stroke-width="1.35"/>
<rect x="152.75" y="123.75" width="5.7" height="5.7" fill="none" stroke="#000" stroke-width="1.35"/>
<rect x="155.85" y="120.65" width="5.7" height="5.7" fill="none" stroke="#000" stroke-width="1.35"/>
<rect x="158.95" y="109.35" width="5.7" height="5.7" fill="none" stroke="#000" stroke-width="1.35"/>
<rect x="161.95" y="92.95" width="5.7" height="5.7" fill="none" stroke="#000" stroke-width="1.35"/>
<rect x="165.05" y="95.05" width="5.7" height="5.7" fill="none" stroke="#000" stroke-width="1.35"/>
<rect x="168.15" y="91.95" width="5.7" height="5.7" fill="none" stroke="#000" stroke-width="1.35"/>
<rect x="172.25" y="87.85" width="5.7" height="5.7" fill="none" stroke="#000" stroke-width="1.35"/>
<rect x="175.35" y="110.35" width="5.7" height="5.7" fill="none" stroke="#000" stroke-width="1.35"/>
<rect x="178.35" y="105.25" width="5.7" height="5.7" fill="none" stroke="#000" stroke-width="1.35"/>
<rect x="181.45" y="118.55" width="5.7" height="5.7" fill="none" stroke="#000" stroke-width="1.35"/>
<rect x="184.55" y="121.65" width="5.7" height="5.7" fill="none" stroke="#000" stroke-width="1.35"/>
<rect x="187.65" y="119.65" width="5.7" height="5.7" fill="none" stroke="#000" stroke-width="1.35"/>
<rect x="190.65" y="123.75" width="5.7" height="5.7" fill="none" stroke="#000" stroke-width="1.35"/>
<rect x="193.75" y="125.75" width="5.7" height="5.7" fill="none" stroke="#000" stroke-width="1.35"/>
<rect x="196.85" y="119.65" width="5.7" height="5.7" fill="none" stroke="#000" stroke-width="1.35"/>
<rect x="199.85" y="96.05" width="5.7" height="5.7" fill="none" stroke="#000" stroke-width="1.35"/>
<rect x="202.95" y="89.85" width="5.7" height="5.7" fill="none" stroke="#000" stroke-width="1.35"/>
<rect x="207.05" y="75.55" width="5.7" height="5.7" fill="none" stroke="#000" stroke-width="1.35"/>
<rect x="210.15" y="82.75" width="5.7" height="5.7" fill="none" stroke="#000" stroke-width="1.35"/>
<rect x="212.15" y="103.25" width="5.7" height="5.7" fill="none" stroke="#000" stroke-width="1.35"/>
<rect x="216.25" y="103.25" width="5.7" height="5.7" fill="none" stroke="#000" stroke-width="1.35"/>
<rect x="219.35" y="122.65" width="5.7" height="5.7" fill="none" stroke="#000" stroke-width="1.35"/>
<line x1="50.5" y1="168.6" x2="72" y2="168.6" stroke="#000" stroke-width="1" />
<rect x="58.35" y="165.75" width="5.7" height="5.7" fill="none" stroke="#000" stroke-width="1.35"/>
<text x="75.5" y="171.8" style='font-family:"Liberation Sans", sans-serif;font-size:9.7px;font-weight:normal' text-anchor="start" fill="#000" stroke="#000" stroke-width="0.22">Unacclimated</text>
<line x1="50.5" y1="191.2" x2="72" y2="191.2" stroke="#000" stroke-width="1" />
<circle cx="61.2" cy="191.2" r="2.95" fill="none" stroke="#000" stroke-width="1.35"/>
<text x="75.5" y="194.4" style='font-family:"Liberation Sans", sans-serif;font-size:9.7px;font-weight:normal' text-anchor="start" fill="#000" stroke="#000" stroke-width="0.22">HA</text>
<text x="149" y="194.3" style='font-family:"Liberation Serif", serif;font-size:11px;font-weight:normal' text-anchor="start" fill="#000" stroke="#000" stroke-width="0.22">p &lt; 0.001</text>
<text x="253.9" y="14.3" style='font-family:"Liberation Sans", sans-serif;font-size:15px;font-weight:bold' text-anchor="start" fill="#000">b</text>
<line x1="294.2" y1="20.9" x2="294.2" y2="207.5" stroke="#000" stroke-width="1.3" />
<line x1="288.7" y1="21.5" x2="294.2" y2="21.5" stroke="#000" stroke-width="1.3" />
<text x="285.5" y="25.1" style='font-family:"Liberation Sans", sans-serif;font-size:10px;font-weight:normal' text-anchor="end" fill="#000" stroke="#000" stroke-width="0.22">800</text>
<line x1="288.7" y1="58.61" x2="294.2" y2="58.61" stroke="#000" stroke-width="1.3" />
<text x="285.5" y="62.21" style='font-family:"Liberation Sans", sans-serif;font-size:10px;font-weight:normal' text-anchor="end" fill="#000" stroke="#000" stroke-width="0.22">700</text>
<line x1="288.7" y1="95.72" x2="294.2" y2="95.72" stroke="#000" stroke-width="1.3" />
<text x="285.5" y="99.32" style='font-family:"Liberation Sans", sans-serif;font-size:10px;font-weight:normal' text-anchor="end" fill="#000" stroke="#000" stroke-width="0.22">600</text>
<line x1="288.7" y1="132.83" x2="294.2" y2="132.83" stroke="#000" stroke-width="1.3" />
<text x="285.5" y="136.43" style='font-family:"Liberation Sans", sans-serif;font-size:10px;font-weight:normal' text-anchor="end" fill="#000" stroke="#000" stroke-width="0.22">500</text>
<line x1="288.7" y1="169.94" x2="294.2" y2="169.94" stroke="#000" stroke-width="1.3" />
<text x="285.5" y="173.54" style='font-family:"Liberation Sans", sans-serif;font-size:10px;font-weight:normal' text-anchor="end" fill="#000" stroke="#000" stroke-width="0.22">400</text>
<line x1="288.7" y1="207.05" x2="294.2" y2="207.05" stroke="#000" stroke-width="1.3" />
<text x="285.5" y="210.65" style='font-family:"Liberation Sans", sans-serif;font-size:10px;font-weight:normal' text-anchor="end" fill="#000" stroke="#000" stroke-width="0.22">300</text>
<line x1="293.6" y1="206.9" x2="479.8" y2="206.9" stroke="#000" stroke-width="1.3" />
<line x1="294.2" y1="206.9" x2="294.2" y2="212.4" stroke="#000" stroke-width="1.3" />
<text x="294.2" y="223.6" style='font-family:"Liberation Sans", sans-serif;font-size:10px;font-weight:normal' text-anchor="middle" fill="#000" stroke="#000" stroke-width="0.22">0</text>
<line x1="331.1" y1="206.9" x2="331.1" y2="212.4" stroke="#000" stroke-width="1.3" />
<text x="331.1" y="223.6" style='font-family:"Liberation Sans", sans-serif;font-size:10px;font-weight:normal' text-anchor="middle" fill="#000" stroke="#000" stroke-width="0.22">24</text>
<line x1="368" y1="206.9" x2="368" y2="212.4" stroke="#000" stroke-width="1.3" />
<text x="368" y="223.6" style='font-family:"Liberation Sans", sans-serif;font-size:10px;font-weight:normal' text-anchor="middle" fill="#000" stroke="#000" stroke-width="0.22">48</text>
<line x1="404.9" y1="206.9" x2="404.9" y2="212.4" stroke="#000" stroke-width="1.3" />
<text x="404.9" y="223.6" style='font-family:"Liberation Sans", sans-serif;font-size:10px;font-weight:normal' text-anchor="middle" fill="#000" stroke="#000" stroke-width="0.22">72</text>
<line x1="441.8" y1="206.9" x2="441.8" y2="212.4" stroke="#000" stroke-width="1.3" />
<text x="441.8" y="223.6" style='font-family:"Liberation Sans", sans-serif;font-size:10px;font-weight:normal' text-anchor="middle" fill="#000" stroke="#000" stroke-width="0.22">96</text>
<line x1="478.7" y1="206.9" x2="478.7" y2="212.4" stroke="#000" stroke-width="1.3" />
<text x="478.7" y="223.6" style='font-family:"Liberation Sans", sans-serif;font-size:10px;font-weight:normal' text-anchor="middle" fill="#000" stroke="#000" stroke-width="0.22">120</text>
<text x="384" y="238.3" style='font-family:"Liberation Serif", serif;font-size:11.2px;font-weight:normal' text-anchor="middle" fill="#000" stroke="#000" stroke-width="0.22">Exposure time (h)</text>
<text x="261.2" y="116.6" style='font-family:"Liberation Serif", serif;font-size:11.2px;font-weight:normal' text-anchor="middle" fill="#000" stroke="#000" stroke-width="0.22" transform="rotate(-90 261.2 116.6)">Heart rate (beats per min)</text>
<polyline points="296.6,82.4 299.2,95.1 303.3,102.3 306.4,98.2 309.5,86.9 312.5,70.5 315,77.7 318.7,92 321.8,94 324.8,105.3 327.9,109.4 331,103.3 334,109.4 337.1,110.5 340.2,111.5 342.9,99.2 345.3,85.9 348.4,79.7 351.5,74.6 355.2,82.8 358.6,93 361.3,99.2 364.2,103.7 366.8,105.3 369.9,110.5 373,115.6 376.5,93 379.8,97.1 383.2,96.1 386.3,90 389.2,75.6 392.3,82.4 395.4,98.2 398.4,102.3 401.5,112.5 404.6,114.5 407.7,115.6 410.7,116.6 413.8,110.5 416.9,102.3 418.9,92 422,90 425.1,83.8 428.8,90 431.6,103.7 434.9,105.7 438.4,114.5 441.5,114.5 444.5,109.4 447.6,113.5 450.7,113.5 454.2,107.4 457.5,86.9 460.5,85.9 463.6,74.6 466.1,81.8 469.1,100.2 472.2,96.1 475.3,105.3" fill="none" stroke="#000" stroke-width="0.9" stroke-linejoin="round" />
<polyline points="296.1,126.2 299.2,152 302.3,151.4 306,148.8 309.5,137.1 312.1,127.9 314.6,133 317,133 319.7,139.1 321.8,145.3 324.8,152.5 327.9,153.5 331,154.5 334,154.5 336.7,156.6 340.2,152 343.3,150.4 346.4,149.4 349.4,139.1 352.5,143.2 355.6,139.1 358.6,143.2 361.7,141.2 364.8,141.2 367.9,144.3 370.9,147.3 374,149.4 377.1,147.3 380.2,143.2 383.2,140.2 387.2,134 390.2,137.1 393.3,139.1 396.4,143.2 398.4,148.4 401.5,150.4 404.6,152.5 408.7,150.4 411.8,154.5 414.4,154.9 416.9,145.3 420,141.2 423,135 426.1,136.1 429.2,143.2 432.3,145.3 435.3,146.3 438.4,150.4 441.5,150.4 444.5,156.6 447.6,157.6 450.7,151.4 453.8,141.2 456.8,140.2 459.9,132 463,135 465,141.2 468.1,145.3 471.2,150.4 474.3,152.5" fill="none" stroke="#000" stroke-width="0.9" stroke-linejoin="round" />
<line x1="296.6" y1="82.4" x2="296.6" y2="71.1" stroke="#000" stroke-width="0.9" />
<line x1="292.8" y1="71.1" x2="300.4" y2="71.1" stroke="#000" stroke-width="0.9" />
<line x1="299.2" y1="95.1" x2="299.2" y2="89.6" stroke="#000" stroke-width="0.9" />
<line x1="295.4" y1="89.6" x2="303" y2="89.6" stroke="#000" stroke-width="0.9" />
<line x1="303.3" y1="102.3" x2="303.3" y2="96.8" stroke="#000" stroke-width="0.9" />
<line x1="299.5" y1="96.8" x2="307.1" y2="96.8" stroke="#000" stroke-width="0.9" />
<line x1="306.4" y1="98.2" x2="306.4" y2="92.7" stroke="#000" stroke-width="0.9" />
<line x1="302.6" y1="92.7" x2="310.2" y2="92.7" stroke="#000" stroke-width="0.9" />
<line x1="309.5" y1="86.9" x2="309.5" y2="81.4" stroke="#000" stroke-width="0.9" />
<line x1="305.7" y1="81.4" x2="313.3" y2="81.4" stroke="#000" stroke-width="0.9" />
<line x1="312.5" y1="70.5" x2="312.5" y2="60.3" stroke="#000" stroke-width="0.9" />
<line x1="308.7" y1="60.3" x2="316.3" y2="60.3" stroke="#000" stroke-width="0.9" />
<line x1="315" y1="77.7" x2="315" y2="72.2" stroke="#000" stroke-width="0.9" />
<line x1="311.2" y1="72.2" x2="318.8" y2="72.2" stroke="#000" stroke-width="0.9" />
<line x1="318.7" y1="92" x2="318.7" y2="86.5" stroke="#000" stroke-width="0.9" />
<line x1="314.9" y1="86.5" x2="322.5" y2="86.5" stroke="#000" stroke-width="0.9" />
<line x1="321.8" y1="94" x2="321.8" y2="88.5" stroke="#000" stroke-width="0.9" />
<line x1="318" y1="88.5" x2="325.6" y2="88.5" stroke="#000" stroke-width="0.9" />
<line x1="324.8" y1="105.3" x2="324.8" y2="99.8" stroke="#000" stroke-width="0.9" />
<line x1="321" y1="99.8" x2="328.6" y2="99.8" stroke="#000" stroke-width="0.9" />
<line x1="327.9" y1="109.4" x2="327.9" y2="103.9" stroke="#000" stroke-width="0.9" />
<line x1="324.1" y1="103.9" x2="331.7" y2="103.9" stroke="#000" stroke-width="0.9" />
<line x1="331" y1="103.3" x2="331" y2="97.8" stroke="#000" stroke-width="0.9" />
<line x1="327.2" y1="97.8" x2="334.8" y2="97.8" stroke="#000" stroke-width="0.9" />
<line x1="334" y1="109.4" x2="334" y2="103.9" stroke="#000" stroke-width="0.9" />
<line x1="330.2" y1="103.9" x2="337.8" y2="103.9" stroke="#000" stroke-width="0.9" />
<line x1="337.1" y1="110.5" x2="337.1" y2="105" stroke="#000" stroke-width="0.9" />
<line x1="333.3" y1="105" x2="340.9" y2="105" stroke="#000" stroke-width="0.9" />
<line x1="340.2" y1="111.5" x2="340.2" y2="106" stroke="#000" stroke-width="0.9" />
<line x1="336.4" y1="106" x2="344" y2="106" stroke="#000" stroke-width="0.9" />
<line x1="342.9" y1="99.2" x2="342.9" y2="93.7" stroke="#000" stroke-width="0.9" />
<line x1="339.1" y1="93.7" x2="346.7" y2="93.7" stroke="#000" stroke-width="0.9" />
<line x1="345.3" y1="85.9" x2="345.3" y2="80.4" stroke="#000" stroke-width="0.9" />
<line x1="341.5" y1="80.4" x2="349.1" y2="80.4" stroke="#000" stroke-width="0.9" />
<line x1="348.4" y1="79.7" x2="348.4" y2="74.2" stroke="#000" stroke-width="0.9" />
<line x1="344.6" y1="74.2" x2="352.2" y2="74.2" stroke="#000" stroke-width="0.9" />
<line x1="351.5" y1="74.6" x2="351.5" y2="66.3" stroke="#000" stroke-width="0.9" />
<line x1="347.7" y1="66.3" x2="355.3" y2="66.3" stroke="#000" stroke-width="0.9" />
<line x1="355.2" y1="82.8" x2="355.2" y2="77.3" stroke="#000" stroke-width="0.9" />
<line x1="351.4" y1="77.3" x2="359" y2="77.3" stroke="#000" stroke-width="0.9" />
<line x1="358.6" y1="93" x2="358.6" y2="87.5" stroke="#000" stroke-width="0.9" />
<line x1="354.8" y1="87.5" x2="362.4" y2="87.5" stroke="#000" stroke-width="0.9" />
<line x1="361.3" y1="99.2" x2="361.3" y2="93.7" stroke="#000" stroke-width="0.9" />
<line x1="357.5" y1="93.7" x2="365.1" y2="93.7" stroke="#000" stroke-width="0.9" />
<line x1="364.2" y1="103.7" x2="364.2" y2="98.2" stroke="#000" stroke-width="0.9" />
<line x1="360.4" y1="98.2" x2="368" y2="98.2" stroke="#000" stroke-width="0.9" />
<line x1="366.8" y1="105.3" x2="366.8" y2="99.8" stroke="#000" stroke-width="0.9" />
<line x1="363" y1="99.8" x2="370.6" y2="99.8" stroke="#000" stroke-width="0.9" />
<line x1="369.9" y1="110.5" x2="369.9" y2="105" stroke="#000" stroke-width="0.9" />
<line x1="366.1" y1="105" x2="373.7" y2="105" stroke="#000" stroke-width="0.9" />
<line x1="373" y1="115.6" x2="373" y2="110.1" stroke="#000" stroke-width="0.9" />
<line x1="369.2" y1="110.1" x2="376.8" y2="110.1" stroke="#000" stroke-width="0.9" />
<line x1="376.5" y1="93" x2="376.5" y2="87.5" stroke="#000" stroke-width="0.9" />
<line x1="372.7" y1="87.5" x2="380.3" y2="87.5" stroke="#000" stroke-width="0.9" />
<line x1="379.8" y1="97.1" x2="379.8" y2="91.6" stroke="#000" stroke-width="0.9" />
<line x1="376" y1="91.6" x2="383.6" y2="91.6" stroke="#000" stroke-width="0.9" />
<line x1="383.2" y1="96.1" x2="383.2" y2="90.6" stroke="#000" stroke-width="0.9" />
<line x1="379.4" y1="90.6" x2="387" y2="90.6" stroke="#000" stroke-width="0.9" />
<line x1="386.3" y1="90" x2="386.3" y2="84.5" stroke="#000" stroke-width="0.9" />
<line x1="382.5" y1="84.5" x2="390.1" y2="84.5" stroke="#000" stroke-width="0.9" />
<line x1="389.2" y1="75.6" x2="389.2" y2="70.1" stroke="#000" stroke-width="0.9" />
<line x1="385.4" y1="70.1" x2="393" y2="70.1" stroke="#000" stroke-width="0.9" />
<line x1="392.3" y1="82.4" x2="392.3" y2="76.9" stroke="#000" stroke-width="0.9" />
<line x1="388.5" y1="76.9" x2="396.1" y2="76.9" stroke="#000" stroke-width="0.9" />
<line x1="395.4" y1="98.2" x2="395.4" y2="92.7" stroke="#000" stroke-width="0.9" />
<line x1="391.6" y1="92.7" x2="399.2" y2="92.7" stroke="#000" stroke-width="0.9" />
<line x1="398.4" y1="102.3" x2="398.4" y2="96.8" stroke="#000" stroke-width="0.9" />
<line x1="394.6" y1="96.8" x2="402.2" y2="96.8" stroke="#000" stroke-width="0.9" />
<line x1="401.5" y1="112.5" x2="401.5" y2="107" stroke="#000" stroke-width="0.9" />
<line x1="397.7" y1="107" x2="405.3" y2="107" stroke="#000" stroke-width="0.9" />
<line x1="404.6" y1="114.5" x2="404.6" y2="109" stroke="#000" stroke-width="0.9" />
<line x1="400.8" y1="109" x2="408.4" y2="109" stroke="#000" stroke-width="0.9" />
<line x1="407.7" y1="115.6" x2="407.7" y2="110.1" stroke="#000" stroke-width="0.9" />
<line x1="403.9" y1="110.1" x2="411.5" y2="110.1" stroke="#000" stroke-width="0.9" />
<line x1="410.7" y1="116.6" x2="410.7" y2="111.1" stroke="#000" stroke-width="0.9" />
<line x1="406.9" y1="111.1" x2="414.5" y2="111.1" stroke="#000" stroke-width="0.9" />
<line x1="413.8" y1="110.5" x2="413.8" y2="105" stroke="#000" stroke-width="0.9" />
<line x1="410" y1="105" x2="417.6" y2="105" stroke="#000" stroke-width="0.9" />
<line x1="416.9" y1="102.3" x2="416.9" y2="96.8" stroke="#000" stroke-width="0.9" />
<line x1="413.1" y1="96.8" x2="420.7" y2="96.8" stroke="#000" stroke-width="0.9" />
<line x1="418.9" y1="92" x2="418.9" y2="86.5" stroke="#000" stroke-width="0.9" />
<line x1="415.1" y1="86.5" x2="422.7" y2="86.5" stroke="#000" stroke-width="0.9" />
<line x1="422" y1="90" x2="422" y2="84.5" stroke="#000" stroke-width="0.9" />
<line x1="418.2" y1="84.5" x2="425.8" y2="84.5" stroke="#000" stroke-width="0.9" />
<line x1="425.1" y1="83.8" x2="425.1" y2="78.3" stroke="#000" stroke-width="0.9" />
<line x1="421.3" y1="78.3" x2="428.9" y2="78.3" stroke="#000" stroke-width="0.9" />
<line x1="428.8" y1="90" x2="428.8" y2="84.5" stroke="#000" stroke-width="0.9" />
<line x1="425" y1="84.5" x2="432.6" y2="84.5" stroke="#000" stroke-width="0.9" />
<line x1="431.6" y1="103.7" x2="431.6" y2="98.2" stroke="#000" stroke-width="0.9" />
<line x1="427.8" y1="98.2" x2="435.4" y2="98.2" stroke="#000" stroke-width="0.9" />
<line x1="434.9" y1="105.7" x2="434.9" y2="100.2" stroke="#000" stroke-width="0.9" />
<line x1="431.1" y1="100.2" x2="438.7" y2="100.2" stroke="#000" stroke-width="0.9" />
<line x1="438.4" y1="114.5" x2="438.4" y2="109" stroke="#000" stroke-width="0.9" />
<line x1="434.6" y1="109" x2="442.2" y2="109" stroke="#000" stroke-width="0.9" />
<line x1="441.5" y1="114.5" x2="441.5" y2="109" stroke="#000" stroke-width="0.9" />
<line x1="437.7" y1="109" x2="445.3" y2="109" stroke="#000" stroke-width="0.9" />
<line x1="444.5" y1="109.4" x2="444.5" y2="103.9" stroke="#000" stroke-width="0.9" />
<line x1="440.7" y1="103.9" x2="448.3" y2="103.9" stroke="#000" stroke-width="0.9" />
<line x1="447.6" y1="113.5" x2="447.6" y2="108" stroke="#000" stroke-width="0.9" />
<line x1="443.8" y1="108" x2="451.4" y2="108" stroke="#000" stroke-width="0.9" />
<line x1="450.7" y1="113.5" x2="450.7" y2="108" stroke="#000" stroke-width="0.9" />
<line x1="446.9" y1="108" x2="454.5" y2="108" stroke="#000" stroke-width="0.9" />
<line x1="454.2" y1="107.4" x2="454.2" y2="101.9" stroke="#000" stroke-width="0.9" />
<line x1="450.4" y1="101.9" x2="458" y2="101.9" stroke="#000" stroke-width="0.9" />
<line x1="457.5" y1="86.9" x2="457.5" y2="81.4" stroke="#000" stroke-width="0.9" />
<line x1="453.7" y1="81.4" x2="461.3" y2="81.4" stroke="#000" stroke-width="0.9" />
<line x1="460.5" y1="85.9" x2="460.5" y2="80.4" stroke="#000" stroke-width="0.9" />
<line x1="456.7" y1="80.4" x2="464.3" y2="80.4" stroke="#000" stroke-width="0.9" />
<line x1="463.6" y1="74.6" x2="463.6" y2="64.3" stroke="#000" stroke-width="0.9" />
<line x1="459.8" y1="64.3" x2="467.4" y2="64.3" stroke="#000" stroke-width="0.9" />
<line x1="466.1" y1="81.8" x2="466.1" y2="76.3" stroke="#000" stroke-width="0.9" />
<line x1="462.3" y1="76.3" x2="469.9" y2="76.3" stroke="#000" stroke-width="0.9" />
<line x1="469.1" y1="100.2" x2="469.1" y2="94.7" stroke="#000" stroke-width="0.9" />
<line x1="465.3" y1="94.7" x2="472.9" y2="94.7" stroke="#000" stroke-width="0.9" />
<line x1="472.2" y1="96.1" x2="472.2" y2="90.6" stroke="#000" stroke-width="0.9" />
<line x1="468.4" y1="90.6" x2="476" y2="90.6" stroke="#000" stroke-width="0.9" />
<line x1="475.3" y1="105.3" x2="475.3" y2="99.8" stroke="#000" stroke-width="0.9" />
<line x1="471.5" y1="99.8" x2="479.1" y2="99.8" stroke="#000" stroke-width="0.9" />
<line x1="296.1" y1="126.2" x2="296.1" y2="141.2" stroke="#000" stroke-width="0.9" />
<line x1="292.3" y1="141.2" x2="299.9" y2="141.2" stroke="#000" stroke-width="0.9" />
<line x1="299.2" y1="152" x2="299.2" y2="160" stroke="#000" stroke-width="0.9" />
<line x1="295.4" y1="160" x2="303" y2="160" stroke="#000" stroke-width="0.9" />
<line x1="302.3" y1="151.4" x2="302.3" y2="159.4" stroke="#000" stroke-width="0.9" />
<line x1="298.5" y1="159.4" x2="306.1" y2="159.4" stroke="#000" stroke-width="0.9" />
<line x1="306" y1="148.8" x2="306" y2="154.3" stroke="#000" stroke-width="0.9" />
<line x1="302.2" y1="154.3" x2="309.8" y2="154.3" stroke="#000" stroke-width="0.9" />
<line x1="309.5" y1="137.1" x2="309.5" y2="142.6" stroke="#000" stroke-width="0.9" />
<line x1="305.7" y1="142.6" x2="313.3" y2="142.6" stroke="#000" stroke-width="0.9" />
<line x1="312.1" y1="127.9" x2="312.1" y2="133.4" stroke="#000" stroke-width="0.9" />
<line x1="308.3" y1="133.4" x2="315.9" y2="133.4" stroke="#000" stroke-width="0.9" />
<line x1="314.6" y1="133" x2="314.6" y2="138.5" stroke="#000" stroke-width="0.9" />
<line x1="310.8" y1="138.5" x2="318.4" y2="138.5" stroke="#000" stroke-width="0.9" />
<line x1="317" y1="133" x2="317" y2="138.5" stroke="#000" stroke-width="0.9" />
<line x1="313.2" y1="138.5" x2="320.8" y2="138.5" stroke="#000" stroke-width="0.9" />
<line x1="319.7" y1="139.1" x2="319.7" y2="144.6" stroke="#000" stroke-width="0.9" />
<line x1="315.9" y1="144.6" x2="323.5" y2="144.6" stroke="#000" stroke-width="0.9" />
<line x1="321.8" y1="145.3" x2="321.8" y2="150.8" stroke="#000" stroke-width="0.9" />
<line x1="318" y1="150.8" x2="325.6" y2="150.8" stroke="#000" stroke-width="0.9" />
<line x1="324.8" y1="152.5" x2="324.8" y2="158" stroke="#000" stroke-width="0.9" />
<line x1="321" y1="158" x2="328.6" y2="158" stroke="#000" stroke-width="0.9" />
<line x1="327.9" y1="153.5" x2="327.9" y2="159" stroke="#000" stroke-width="0.9" />
<line x1="324.1" y1="159" x2="331.7" y2="159" stroke="#000" stroke-width="0.9" />
<line x1="331" y1="154.5" x2="331" y2="160" stroke="#000" stroke-width="0.9" />
<line x1="327.2" y1="160" x2="334.8" y2="160" stroke="#000" stroke-width="0.9" />
<line x1="334" y1="154.5" x2="334" y2="160" stroke="#000" stroke-width="0.9" />
<line x1="330.2" y1="160" x2="337.8" y2="160" stroke="#000" stroke-width="0.9" />
<line x1="336.7" y1="156.6" x2="336.7" y2="162.1" stroke="#000" stroke-width="0.9" />
<line x1="332.9" y1="162.1" x2="340.5" y2="162.1" stroke="#000" stroke-width="0.9" />
<line x1="340.2" y1="152" x2="340.2" y2="157.5" stroke="#000" stroke-width="0.9" />
<line x1="336.4" y1="157.5" x2="344" y2="157.5" stroke="#000" stroke-width="0.9" />
<line x1="343.3" y1="150.4" x2="343.3" y2="155.9" stroke="#000" stroke-width="0.9" />
<line x1="339.5" y1="155.9" x2="347.1" y2="155.9" stroke="#000" stroke-width="0.9" />
<line x1="346.4" y1="149.4" x2="346.4" y2="154.9" stroke="#000" stroke-width="0.9" />
<line x1="342.6" y1="154.9" x2="350.2" y2="154.9" stroke="#000" stroke-width="0.9" />
<line x1="349.4" y1="139.1" x2="349.4" y2="144.6" stroke="#000" stroke-width="0.9" />
<line x1="345.6" y1="144.6" x2="353.2" y2="144.6" stroke="#000" stroke-width="0.9" />
<line x1="352.5" y1="143.2" x2="352.5" y2="148.7" stroke="#000" stroke-width="0.9" />
<line x1="348.7" y1="148.7" x2="356.3" y2="148.7" stroke="#000" stroke-width="0.9" />
<line x1="355.6" y1="139.1" x2="355.6" y2="144.6" stroke="#000" stroke-width="0.9" />
<line x1="351.8" y1="144.6" x2="359.4" y2="144.6" stroke="#000" stroke-width="0.9" />
<line x1="358.6" y1="143.2" x2="358.6" y2="148.7" stroke="#000" stroke-width="0.9" />
<line x1="354.8" y1="148.7" x2="362.4" y2="148.7" stroke="#000" stroke-width="0.9" />
<line x1="361.7" y1="141.2" x2="361.7" y2="146.7" stroke="#000" stroke-width="0.9" />
<line x1="357.9" y1="146.7" x2="365.5" y2="146.7" stroke="#000" stroke-width="0.9" />
<line x1="364.8" y1="141.2" x2="364.8" y2="146.7" stroke="#000" stroke-width="0.9" />
<line x1="361" y1="146.7" x2="368.6" y2="146.7" stroke="#000" stroke-width="0.9" />
<line x1="367.9" y1="144.3" x2="367.9" y2="149.8" stroke="#000" stroke-width="0.9" />
<line x1="364.1" y1="149.8" x2="371.7" y2="149.8" stroke="#000" stroke-width="0.9" />
<line x1="370.9" y1="147.3" x2="370.9" y2="152.8" stroke="#000" stroke-width="0.9" />
<line x1="367.1" y1="152.8" x2="374.7" y2="152.8" stroke="#000" stroke-width="0.9" />
<line x1="374" y1="149.4" x2="374" y2="154.9" stroke="#000" stroke-width="0.9" />
<line x1="370.2" y1="154.9" x2="377.8" y2="154.9" stroke="#000" stroke-width="0.9" />
<line x1="377.1" y1="147.3" x2="377.1" y2="152.8" stroke="#000" stroke-width="0.9" />
<line x1="373.3" y1="152.8" x2="380.9" y2="152.8" stroke="#000" stroke-width="0.9" />
<line x1="380.2" y1="143.2" x2="380.2" y2="148.7" stroke="#000" stroke-width="0.9" />
<line x1="376.4" y1="148.7" x2="384" y2="148.7" stroke="#000" stroke-width="0.9" />
<line x1="383.2" y1="140.2" x2="383.2" y2="145.7" stroke="#000" stroke-width="0.9" />
<line x1="379.4" y1="145.7" x2="387" y2="145.7" stroke="#000" stroke-width="0.9" />
<line x1="387.2" y1="134" x2="387.2" y2="139.5" stroke="#000" stroke-width="0.9" />
<line x1="383.4" y1="139.5" x2="391" y2="139.5" stroke="#000" stroke-width="0.9" />
<line x1="390.2" y1="137.1" x2="390.2" y2="142.6" stroke="#000" stroke-width="0.9" />
<line x1="386.4" y1="142.6" x2="394" y2="142.6" stroke="#000" stroke-width="0.9" />
<line x1="393.3" y1="139.1" x2="393.3" y2="144.6" stroke="#000" stroke-width="0.9" />
<line x1="389.5" y1="144.6" x2="397.1" y2="144.6" stroke="#000" stroke-width="0.9" />
<line x1="396.4" y1="143.2" x2="396.4" y2="148.7" stroke="#000" stroke-width="0.9" />
<line x1="392.6" y1="148.7" x2="400.2" y2="148.7" stroke="#000" stroke-width="0.9" />
<line x1="398.4" y1="148.4" x2="398.4" y2="153.9" stroke="#000" stroke-width="0.9" />
<line x1="394.6" y1="153.9" x2="402.2" y2="153.9" stroke="#000" stroke-width="0.9" />
<line x1="401.5" y1="150.4" x2="401.5" y2="155.9" stroke="#000" stroke-width="0.9" />
<line x1="397.7" y1="155.9" x2="405.3" y2="155.9" stroke="#000" stroke-width="0.9" />
<line x1="404.6" y1="152.5" x2="404.6" y2="158" stroke="#000" stroke-width="0.9" />
<line x1="400.8" y1="158" x2="408.4" y2="158" stroke="#000" stroke-width="0.9" />
<line x1="408.7" y1="150.4" x2="408.7" y2="155.9" stroke="#000" stroke-width="0.9" />
<line x1="404.9" y1="155.9" x2="412.5" y2="155.9" stroke="#000" stroke-width="0.9" />
<line x1="411.8" y1="154.5" x2="411.8" y2="160" stroke="#000" stroke-width="0.9" />
<line x1="408" y1="160" x2="415.6" y2="160" stroke="#000" stroke-width="0.9" />
<line x1="414.4" y1="154.9" x2="414.4" y2="160.4" stroke="#000" stroke-width="0.9" />
<line x1="410.6" y1="160.4" x2="418.2" y2="160.4" stroke="#000" stroke-width="0.9" />
<line x1="416.9" y1="145.3" x2="416.9" y2="150.8" stroke="#000" stroke-width="0.9" />
<line x1="413.1" y1="150.8" x2="420.7" y2="150.8" stroke="#000" stroke-width="0.9" />
<line x1="420" y1="141.2" x2="420" y2="146.7" stroke="#000" stroke-width="0.9" />
<line x1="416.2" y1="146.7" x2="423.8" y2="146.7" stroke="#000" stroke-width="0.9" />
<line x1="423" y1="135" x2="423" y2="140.5" stroke="#000" stroke-width="0.9" />
<line x1="419.2" y1="140.5" x2="426.8" y2="140.5" stroke="#000" stroke-width="0.9" />
<line x1="426.1" y1="136.1" x2="426.1" y2="141.6" stroke="#000" stroke-width="0.9" />
<line x1="422.3" y1="141.6" x2="429.9" y2="141.6" stroke="#000" stroke-width="0.9" />
<line x1="429.2" y1="143.2" x2="429.2" y2="148.7" stroke="#000" stroke-width="0.9" />
<line x1="425.4" y1="148.7" x2="433" y2="148.7" stroke="#000" stroke-width="0.9" />
<line x1="432.3" y1="145.3" x2="432.3" y2="150.8" stroke="#000" stroke-width="0.9" />
<line x1="428.5" y1="150.8" x2="436.1" y2="150.8" stroke="#000" stroke-width="0.9" />
<line x1="435.3" y1="146.3" x2="435.3" y2="151.8" stroke="#000" stroke-width="0.9" />
<line x1="431.5" y1="151.8" x2="439.1" y2="151.8" stroke="#000" stroke-width="0.9" />
<line x1="438.4" y1="150.4" x2="438.4" y2="155.9" stroke="#000" stroke-width="0.9" />
<line x1="434.6" y1="155.9" x2="442.2" y2="155.9" stroke="#000" stroke-width="0.9" />
<line x1="441.5" y1="150.4" x2="441.5" y2="155.9" stroke="#000" stroke-width="0.9" />
<line x1="437.7" y1="155.9" x2="445.3" y2="155.9" stroke="#000" stroke-width="0.9" />
<line x1="444.5" y1="156.6" x2="444.5" y2="162.1" stroke="#000" stroke-width="0.9" />
<line x1="440.7" y1="162.1" x2="448.3" y2="162.1" stroke="#000" stroke-width="0.9" />
<line x1="447.6" y1="157.6" x2="447.6" y2="163.1" stroke="#000" stroke-width="0.9" />
<line x1="443.8" y1="163.1" x2="451.4" y2="163.1" stroke="#000" stroke-width="0.9" />
<line x1="450.7" y1="151.4" x2="450.7" y2="156.9" stroke="#000" stroke-width="0.9" />
<line x1="446.9" y1="156.9" x2="454.5" y2="156.9" stroke="#000" stroke-width="0.9" />
<line x1="453.8" y1="141.2" x2="453.8" y2="146.7" stroke="#000" stroke-width="0.9" />
<line x1="450" y1="146.7" x2="457.6" y2="146.7" stroke="#000" stroke-width="0.9" />
<line x1="456.8" y1="140.2" x2="456.8" y2="145.7" stroke="#000" stroke-width="0.9" />
<line x1="453" y1="145.7" x2="460.6" y2="145.7" stroke="#000" stroke-width="0.9" />
<line x1="459.9" y1="132" x2="459.9" y2="137.5" stroke="#000" stroke-width="0.9" />
<line x1="456.1" y1="137.5" x2="463.7" y2="137.5" stroke="#000" stroke-width="0.9" />
<line x1="463" y1="135" x2="463" y2="140.5" stroke="#000" stroke-width="0.9" />
<line x1="459.2" y1="140.5" x2="466.8" y2="140.5" stroke="#000" stroke-width="0.9" />
<line x1="465" y1="141.2" x2="465" y2="146.7" stroke="#000" stroke-width="0.9" />
<line x1="461.2" y1="146.7" x2="468.8" y2="146.7" stroke="#000" stroke-width="0.9" />
<line x1="468.1" y1="145.3" x2="468.1" y2="150.8" stroke="#000" stroke-width="0.9" />
<line x1="464.3" y1="150.8" x2="471.9" y2="150.8" stroke="#000" stroke-width="0.9" />
<line x1="471.2" y1="150.4" x2="471.2" y2="155.9" stroke="#000" stroke-width="0.9" />
<line x1="467.4" y1="155.9" x2="475" y2="155.9" stroke="#000" stroke-width="0.9" />
<line x1="474.3" y1="152.5" x2="474.3" y2="158" stroke="#000" stroke-width="0.9" />
<line x1="470.5" y1="158" x2="478.1" y2="158" stroke="#000" stroke-width="0.9" />
<rect x="293.75" y="79.55" width="5.7" height="5.7" fill="none" stroke="#000" stroke-width="1.35"/>
<rect x="296.35" y="92.25" width="5.7" height="5.7" fill="none" stroke="#000" stroke-width="1.35"/>
<rect x="300.45" y="99.45" width="5.7" height="5.7" fill="none" stroke="#000" stroke-width="1.35"/>
<rect x="303.55" y="95.35" width="5.7" height="5.7" fill="none" stroke="#000" stroke-width="1.35"/>
<rect x="306.65" y="84.05" width="5.7" height="5.7" fill="none" stroke="#000" stroke-width="1.35"/>
<rect x="309.65" y="67.65" width="5.7" height="5.7" fill="none" stroke="#000" stroke-width="1.35"/>
<rect x="312.15" y="74.85" width="5.7" height="5.7" fill="none" stroke="#000" stroke-width="1.35"/>
<rect x="315.85" y="89.15" width="5.7" height="5.7" fill="none" stroke="#000" stroke-width="1.35"/>
<rect x="318.95" y="91.15" width="5.7" height="5.7" fill="none" stroke="#000" stroke-width="1.35"/>
<rect x="321.95" y="102.45" width="5.7" height="5.7" fill="none" stroke="#000" stroke-width="1.35"/>
<rect x="325.05" y="106.55" width="5.7" height="5.7" fill="none" stroke="#000" stroke-width="1.35"/>
<rect x="328.15" y="100.45" width="5.7" height="5.7" fill="none" stroke="#000" stroke-width="1.35"/>
<rect x="331.15" y="106.55" width="5.7" height="5.7" fill="none" stroke="#000" stroke-width="1.35"/>
<rect x="334.25" y="107.65" width="5.7" height="5.7" fill="none" stroke="#000" stroke-width="1.35"/>
<rect x="337.35" y="108.65" width="5.7" height="5.7" fill="none" stroke="#000" stroke-width="1.35"/>
<rect x="340.05" y="96.35" width="5.7" height="5.7" fill="none" stroke="#000" stroke-width="1.35"/>
<rect x="342.45" y="83.05" width="5.7" height="5.7" fill="none" stroke="#000" stroke-width="1.35"/>
<rect x="345.55" y="76.85" width="5.7" height="5.7" fill="none" stroke="#000" stroke-width="1.35"/>
<rect x="348.65" y="71.75" width="5.7" height="5.7" fill="none" stroke="#000" stroke-width="1.35"/>
<rect x="352.35" y="79.95" width="5.7" height="5.7" fill="none" stroke="#000" stroke-width="1.35"/>
<rect x="355.75" y="90.15" width="5.7" height="5.7" fill="none" stroke="#000" stroke-width="1.35"/>
<rect x="358.45" y="96.35" width="5.7" height="5.7" fill="none" stroke="#000" stroke-width="1.35"/>
<rect x="361.35" y="100.85" width="5.7" height="5.7" fill="none" stroke="#000" stroke-width="1.35"/>
<rect x="363.95" y="102.45" width="5.7" height="5.7" fill="none" stroke="#000" stroke-width="1.35"/>
<rect x="367.05" y="107.65" width="5.7" height="5.7" fill="none" stroke="#000" stroke-width="1.35"/>
<rect x="370.15" y="112.75" width="5.7" height="5.7" fill="none" stroke="#000" stroke-width="1.35"/>
<rect x="373.65" y="90.15" width="5.7" height="5.7" fill="none" stroke="#000" stroke-width="1.35"/>
<rect x="376.95" y="94.25" width="5.7" height="5.7" fill="none" stroke="#000" stroke-width="1.35"/>
<rect x="380.35" y="93.25" width="5.7" height="5.7" fill="none" stroke="#000" stroke-width="1.35"/>
<rect x="383.45" y="87.15" width="5.7" height="5.7" fill="none" stroke="#000" stroke-width="1.35"/>
<rect x="386.35" y="72.75" width="5.7" height="5.7" fill="none" stroke="#000" stroke-width="1.35"/>
<rect x="389.45" y="79.55" width="5.7" height="5.7" fill="none" stroke="#000" stroke-width="1.35"/>
<rect x="392.55" y="95.35" width="5.7" height="5.7" fill="none" stroke="#000" stroke-width="1.35"/>
<rect x="395.55" y="99.45" width="5.7" height="5.7" fill="none" stroke="#000" stroke-width="1.35"/>
<rect x="398.65" y="109.65" width="5.7" height="5.7" fill="none" stroke="#000" stroke-width="1.35"/>
<rect x="401.75" y="111.65" width="5.7" height="5.7" fill="none" stroke="#000" stroke-width="1.35"/>
<rect x="404.85" y="112.75" width="5.7" height="5.7" fill="none" stroke="#000" stroke-width="1.35"/>
<rect x="407.85" y="113.75" width="5.7" height="5.7" fill="none" stroke="#000" stroke-width="1.35"/>
<rect x="410.95" y="107.65" width="5.7" height="5.7" fill="none" stroke="#000" stroke-width="1.35"/>
<rect x="414.05" y="99.45" width="5.7" height="5.7" fill="none" stroke="#000" stroke-width="1.35"/>
<rect x="416.05" y="89.15" width="5.7" height="5.7" fill="none" stroke="#000" stroke-width="1.35"/>
<rect x="419.15" y="87.15" width="5.7" height="5.7" fill="none" stroke="#000" stroke-width="1.35"/>
<rect x="422.25" y="80.95" width="5.7" height="5.7" fill="none" stroke="#000" stroke-width="1.35"/>
<rect x="425.95" y="87.15" width="5.7" height="5.7" fill="none" stroke="#000" stroke-width="1.35"/>
<rect x="428.75" y="100.85" width="5.7" height="5.7" fill="none" stroke="#000" stroke-width="1.35"/>
<rect x="432.05" y="102.85" width="5.7" height="5.7" fill="none" stroke="#000" stroke-width="1.35"/>
<rect x="435.55" y="111.65" width="5.7" height="5.7" fill="none" stroke="#000" stroke-width="1.35"/>
<rect x="438.65" y="111.65" width="5.7" height="5.7" fill="none" stroke="#000" stroke-width="1.35"/>
<rect x="441.65" y="106.55" width="5.7" height="5.7" fill="none" stroke="#000" stroke-width="1.35"/>
<rect x="444.75" y="110.65" width="5.7" height="5.7" fill="none" stroke="#000" stroke-width="1.35"/>
<rect x="447.85" y="110.65" width="5.7" height="5.7" fill="none" stroke="#000" stroke-width="1.35"/>
<rect x="451.35" y="104.55" width="5.7" height="5.7" fill="none" stroke="#000" stroke-width="1.35"/>
<rect x="454.65" y="84.05" width="5.7" height="5.7" fill="none" stroke="#000" stroke-width="1.35"/>
<rect x="457.65" y="83.05" width="5.7" height="5.7" fill="none" stroke="#000" stroke-width="1.35"/>
<rect x="460.75" y="71.75" width="5.7" height="5.7" fill="none" stroke="#000" stroke-width="1.35"/>
<rect x="463.25" y="78.95" width="5.7" height="5.7" fill="none" stroke="#000" stroke-width="1.35"/>
<rect x="466.25" y="97.35" width="5.7" height="5.7" fill="none" stroke="#000" stroke-width="1.35"/>
<rect x="469.35" y="93.25" width="5.7" height="5.7" fill="none" stroke="#000" stroke-width="1.35"/>
<rect x="472.45" y="102.45" width="5.7" height="5.7" fill="none" stroke="#000" stroke-width="1.35"/>
<circle cx="296.1" cy="126.2" r="2.95" fill="none" stroke="#000" stroke-width="1.35"/>
<circle cx="299.2" cy="152" r="2.95" fill="none" stroke="#000" stroke-width="1.35"/>
<circle cx="302.3" cy="151.4" r="2.95" fill="none" stroke="#000" stroke-width="1.35"/>
<circle cx="306" cy="148.8" r="2.95" fill="none" stroke="#000" stroke-width="1.35"/>
<circle cx="309.5" cy="137.1" r="2.95" fill="none" stroke="#000" stroke-width="1.35"/>
<circle cx="312.1" cy="127.9" r="2.95" fill="none" stroke="#000" stroke-width="1.35"/>
<circle cx="314.6" cy="133" r="2.95" fill="none" stroke="#000" stroke-width="1.35"/>
<circle cx="317" cy="133" r="2.95" fill="none" stroke="#000" stroke-width="1.35"/>
<circle cx="319.7" cy="139.1" r="2.95" fill="none" stroke="#000" stroke-width="1.35"/>
<circle cx="321.8" cy="145.3" r="2.95" fill="none" stroke="#000" stroke-width="1.35"/>
<circle cx="324.8" cy="152.5" r="2.95" fill="none" stroke="#000" stroke-width="1.35"/>
<circle cx="327.9" cy="153.5" r="2.95" fill="none" stroke="#000" stroke-width="1.35"/>
<circle cx="331" cy="154.5" r="2.95" fill="none" stroke="#000" stroke-width="1.35"/>
<circle cx="334" cy="154.5" r="2.95" fill="none" stroke="#000" stroke-width="1.35"/>
<circle cx="336.7" cy="156.6" r="2.95" fill="none" stroke="#000" stroke-width="1.35"/>
<circle cx="340.2" cy="152" r="2.95" fill="none" stroke="#000" stroke-width="1.35"/>
<circle cx="343.3" cy="150.4" r="2.95" fill="none" stroke="#000" stroke-width="1.35"/>
<circle cx="346.4" cy="149.4" r="2.95" fill="none" stroke="#000" stroke-width="1.35"/>
<circle cx="349.4" cy="139.1" r="2.95" fill="none" stroke="#000" stroke-width="1.35"/>
<circle cx="352.5" cy="143.2" r="2.95" fill="none" stroke="#000" stroke-width="1.35"/>
<circle cx="355.6" cy="139.1" r="2.95" fill="none" stroke="#000" stroke-width="1.35"/>
<circle cx="358.6" cy="143.2" r="2.95" fill="none" stroke="#000" stroke-width="1.35"/>
<circle cx="361.7" cy="141.2" r="2.95" fill="none" stroke="#000" stroke-width="1.35"/>
<circle cx="364.8" cy="141.2" r="2.95" fill="none" stroke="#000" stroke-width="1.35"/>
<circle cx="367.9" cy="144.3" r="2.95" fill="none" stroke="#000" stroke-width="1.35"/>
<circle cx="370.9" cy="147.3" r="2.95" fill="none" stroke="#000" stroke-width="1.35"/>
<circle cx="374" cy="149.4" r="2.95" fill="none" stroke="#000" stroke-width="1.35"/>
<circle cx="377.1" cy="147.3" r="2.95" fill="none" stroke="#000" stroke-width="1.35"/>
<circle cx="380.2" cy="143.2" r="2.95" fill="none" stroke="#000" stroke-width="1.35"/>
<circle cx="383.2" cy="140.2" r="2.95" fill="none" stroke="#000" stroke-width="1.35"/>
<circle cx="387.2" cy="134" r="2.95" fill="none" stroke="#000" stroke-width="1.35"/>
<circle cx="390.2" cy="137.1" r="2.95" fill="none" stroke="#000" stroke-width="1.35"/>
<circle cx="393.3" cy="139.1" r="2.95" fill="none" stroke="#000" stroke-width="1.35"/>
<circle cx="396.4" cy="143.2" r="2.95" fill="none" stroke="#000" stroke-width="1.35"/>
<circle cx="398.4" cy="148.4" r="2.95" fill="none" stroke="#000" stroke-width="1.35"/>
<circle cx="401.5" cy="150.4" r="2.95" fill="none" stroke="#000" stroke-width="1.35"/>
<circle cx="404.6" cy="152.5" r="2.95" fill="none" stroke="#000" stroke-width="1.35"/>
<circle cx="408.7" cy="150.4" r="2.95" fill="none" stroke="#000" stroke-width="1.35"/>
<circle cx="411.8" cy="154.5" r="2.95" fill="none" stroke="#000" stroke-width="1.35"/>
<circle cx="414.4" cy="154.9" r="2.95" fill="none" stroke="#000" stroke-width="1.35"/>
<circle cx="416.9" cy="145.3" r="2.95" fill="none" stroke="#000" stroke-width="1.35"/>
<circle cx="420" cy="141.2" r="2.95" fill="none" stroke="#000" stroke-width="1.35"/>
<circle cx="423" cy="135" r="2.95" fill="none" stroke="#000" stroke-width="1.35"/>
<circle cx="426.1" cy="136.1" r="2.95" fill="none" stroke="#000" stroke-width="1.35"/>
<circle cx="429.2" cy="143.2" r="2.95" fill="none" stroke="#000" stroke-width="1.35"/>
<circle cx="432.3" cy="145.3" r="2.95" fill="none" stroke="#000" stroke-width="1.35"/>
<circle cx="435.3" cy="146.3" r="2.95" fill="none" stroke="#000" stroke-width="1.35"/>
<circle cx="438.4" cy="150.4" r="2.95" fill="none" stroke="#000" stroke-width="1.35"/>
<circle cx="441.5" cy="150.4" r="2.95" fill="none" stroke="#000" stroke-width="1.35"/>
<circle cx="444.5" cy="156.6" r="2.95" fill="none" stroke="#000" stroke-width="1.35"/>
<circle cx="447.6" cy="157.6" r="2.95" fill="none" stroke="#000" stroke-width="1.35"/>
<circle cx="450.7" cy="151.4" r="2.95" fill="none" stroke="#000" stroke-width="1.35"/>
<circle cx="453.8" cy="141.2" r="2.95" fill="none" stroke="#000" stroke-width="1.35"/>
<circle cx="456.8" cy="140.2" r="2.95" fill="none" stroke="#000" stroke-width="1.35"/>
<circle cx="459.9" cy="132" r="2.95" fill="none" stroke="#000" stroke-width="1.35"/>
<circle cx="463" cy="135" r="2.95" fill="none" stroke="#000" stroke-width="1.35"/>
<circle cx="465" cy="141.2" r="2.95" fill="none" stroke="#000" stroke-width="1.35"/>
<circle cx="468.1" cy="145.3" r="2.95" fill="none" stroke="#000" stroke-width="1.35"/>
<circle cx="471.2" cy="150.4" r="2.95" fill="none" stroke="#000" stroke-width="1.35"/>
<circle cx="474.3" cy="152.5" r="2.95" fill="none" stroke="#000" stroke-width="1.35"/>
<line x1="362.3" y1="22.2" x2="383.2" y2="22.2" stroke="#000" stroke-width="1" />
<rect x="370.05" y="19.35" width="5.7" height="5.7" fill="none" stroke="#000" stroke-width="1.35"/>
<text x="387.3" y="25.2" style='font-family:"Liberation Sans", sans-serif;font-size:9.7px;font-weight:normal' text-anchor="start" fill="#000" stroke="#000" stroke-width="0.22">Unacclimated</text>
<line x1="362.3" y1="43.6" x2="383.2" y2="43.6" stroke="#000" stroke-width="1" />
<circle cx="372.9" cy="43.6" r="2.95" fill="none" stroke="#000" stroke-width="1.35"/>
<text x="387.3" y="47.1" style='font-family:"Liberation Sans", sans-serif;font-size:9.7px;font-weight:normal' text-anchor="start" fill="#000" stroke="#000" stroke-width="0.22">HA</text>
<text x="400.2" y="191.3" style='font-family:"Liberation Serif", serif;font-size:11px;font-weight:normal' text-anchor="start" fill="#000" stroke="#000" stroke-width="0.22">p &lt; 0.001</text>
<text x="2.3" y="273.6" style='font-family:"Liberation Sans", sans-serif;font-size:16.2px;font-weight:bold' text-anchor="start" fill="#000">c</text>
<line x1="37.75" y1="280" x2="37.75" y2="469" stroke="#000" stroke-width="1.3" />
<line x1="32.25" y1="280.6" x2="37.75" y2="280.6" stroke="#000" stroke-width="1.3" />
<text x="29.6" y="285.1" style='font-family:"Liberation Sans", sans-serif;font-size:10px;font-weight:normal' text-anchor="end" fill="#000" stroke="#000" stroke-width="0.22">16</text>
<line x1="32.25" y1="327.58" x2="37.75" y2="327.58" stroke="#000" stroke-width="1.3" />
<text x="29.6" y="332.08" style='font-family:"Liberation Sans", sans-serif;font-size:10px;font-weight:normal' text-anchor="end" fill="#000" stroke="#000" stroke-width="0.22">12</text>
<line x1="32.25" y1="374.55" x2="37.75" y2="374.55" stroke="#000" stroke-width="1.3" />
<text x="29.6" y="379.05" style='font-family:"Liberation Sans", sans-serif;font-size:10px;font-weight:normal' text-anchor="end" fill="#000" stroke="#000" stroke-width="0.22">8</text>
<line x1="32.25" y1="421.53" x2="37.75" y2="421.53" stroke="#000" stroke-width="1.3" />
<text x="29.6" y="426.03" style='font-family:"Liberation Sans", sans-serif;font-size:10px;font-weight:normal' text-anchor="end" fill="#000" stroke="#000" stroke-width="0.22">4</text>
<line x1="32.25" y1="468.5" x2="37.75" y2="468.5" stroke="#000" stroke-width="1.3" />
<text x="29.6" y="473" style='font-family:"Liberation Sans", sans-serif;font-size:10px;font-weight:normal' text-anchor="end" fill="#000" stroke="#000" stroke-width="0.22">0</text>
<line x1="37.15" y1="468.4" x2="225.2" y2="468.4" stroke="#000" stroke-width="1.3" />
<line x1="37.6" y1="468.4" x2="37.6" y2="473.9" stroke="#000" stroke-width="1.3" />
<text x="37.6" y="485" style='font-family:"Liberation Sans", sans-serif;font-size:10px;font-weight:normal' text-anchor="middle" fill="#000" stroke="#000" stroke-width="0.22">0</text>
<line x1="75" y1="468.4" x2="75" y2="473.9" stroke="#000" stroke-width="1.3" />
<text x="75" y="485" style='font-family:"Liberation Sans", sans-serif;font-size:10px;font-weight:normal' text-anchor="middle" fill="#000" stroke="#000" stroke-width="0.22">24</text>
<line x1="112.4" y1="468.4" x2="112.4" y2="473.9" stroke="#000" stroke-width="1.3" />
<text x="112.4" y="485" style='font-family:"Liberation Sans", sans-serif;font-size:10px;font-weight:normal' text-anchor="middle" fill="#000" stroke="#000" stroke-width="0.22">48</text>
<line x1="149.8" y1="468.4" x2="149.8" y2="473.9" stroke="#000" stroke-width="1.3" />
<text x="149.8" y="485" style='font-family:"Liberation Sans", sans-serif;font-size:10px;font-weight:normal' text-anchor="middle" fill="#000" stroke="#000" stroke-width="0.22">72</text>
<line x1="187.2" y1="468.4" x2="187.2" y2="473.9" stroke="#000" stroke-width="1.3" />
<text x="187.2" y="485" style='font-family:"Liberation Sans", sans-serif;font-size:10px;font-weight:normal' text-anchor="middle" fill="#000" stroke="#000" stroke-width="0.22">96</text>
<line x1="224.6" y1="468.4" x2="224.6" y2="473.9" stroke="#000" stroke-width="1.3" />
<text x="224.6" y="485" style='font-family:"Liberation Sans", sans-serif;font-size:10px;font-weight:normal' text-anchor="middle" fill="#000" stroke="#000" stroke-width="0.22">120</text>
<text x="127.5" y="498.3" style='font-family:"Liberation Serif", serif;font-size:11.2px;font-weight:normal' text-anchor="middle" fill="#000" stroke="#000" stroke-width="0.22">Exposure time (h)</text>
<text x="9.4" y="375.4" style='font-family:"Liberation Serif", serif;font-size:11.2px;font-weight:normal' text-anchor="middle" fill="#000" stroke="#000" stroke-width="0.22" transform="rotate(-90 9.4 375.4)">Activity (arbitrary units)</text>
<line x1="70.7" y1="331.9" x2="70.7" y2="385" stroke="#555" stroke-width="1" />
<line x1="67.5" y1="331.9" x2="73.9" y2="331.9" stroke="#555" stroke-width="1" />
<line x1="76.4" y1="387" x2="76.4" y2="422.4" stroke="#555" stroke-width="1" />
<line x1="73.2" y1="387" x2="79.6" y2="387" stroke="#555" stroke-width="1" />
<line x1="94.5" y1="368" x2="94.5" y2="386.2" stroke="#555" stroke-width="1" />
<line x1="91.3" y1="368" x2="97.7" y2="368" stroke="#555" stroke-width="1" />
<line x1="101.3" y1="372" x2="101.3" y2="395.2" stroke="#555" stroke-width="1" />
<line x1="98.1" y1="372" x2="104.5" y2="372" stroke="#555" stroke-width="1" />
<line x1="120" y1="383.9" x2="120" y2="406.5" stroke="#555" stroke-width="1" />
<line x1="116.8" y1="383.9" x2="123.2" y2="383.9" stroke="#555" stroke-width="1" />
<line x1="129.5" y1="373.7" x2="129.5" y2="395.2" stroke="#555" stroke-width="1" />
<line x1="126.3" y1="373.7" x2="132.7" y2="373.7" stroke="#555" stroke-width="1" />
<line x1="134" y1="362.4" x2="134" y2="372.6" stroke="#555" stroke-width="1" />
<line x1="130.8" y1="362.4" x2="137.2" y2="362.4" stroke="#555" stroke-width="1" />
<line x1="135.9" y1="355.6" x2="135.9" y2="366.9" stroke="#555" stroke-width="1" />
<line x1="132.7" y1="355.6" x2="139.1" y2="355.6" stroke="#555" stroke-width="1" />
<line x1="163.9" y1="364.7" x2="163.9" y2="385.5" stroke="#555" stroke-width="1" />
<line x1="160.7" y1="364.7" x2="167.1" y2="364.7" stroke="#555" stroke-width="1" />
<line x1="170.2" y1="381.6" x2="170.2" y2="399.7" stroke="#555" stroke-width="1" />
<line x1="167" y1="381.6" x2="173.4" y2="381.6" stroke="#555" stroke-width="1" />
<line x1="173.6" y1="385" x2="173.6" y2="399.7" stroke="#555" stroke-width="1" />
<line x1="170.4" y1="385" x2="176.8" y2="385" stroke="#555" stroke-width="1" />
<line x1="201.5" y1="370.3" x2="201.5" y2="389" stroke="#555" stroke-width="1" />
<line x1="198.3" y1="370.3" x2="204.7" y2="370.3" stroke="#555" stroke-width="1" />
<line x1="207.6" y1="330.4" x2="207.6" y2="357.9" stroke="#555" stroke-width="1" />
<line x1="204.4" y1="330.4" x2="210.8" y2="330.4" stroke="#555" stroke-width="1" />
<line x1="213.2" y1="393" x2="213.2" y2="414.2" stroke="#555" stroke-width="1" />
<line x1="210" y1="393" x2="216.4" y2="393" stroke="#555" stroke-width="1" />
<line x1="58.3" y1="370" x2="58.3" y2="383.9" stroke="#555" stroke-width="1" />
<line x1="55.1" y1="370" x2="61.5" y2="370" stroke="#555" stroke-width="1" />
<line x1="61.7" y1="380" x2="61.7" y2="398.6" stroke="#555" stroke-width="1" />
<line x1="58.5" y1="380" x2="64.9" y2="380" stroke="#555" stroke-width="1" />
<line x1="88.4" y1="392" x2="88.4" y2="406.5" stroke="#555" stroke-width="1" />
<line x1="85.2" y1="392" x2="91.6" y2="392" stroke="#555" stroke-width="1" />
<line x1="166.9" y1="388" x2="166.9" y2="398.6" stroke="#555" stroke-width="1" />
<line x1="163.7" y1="388" x2="170.1" y2="388" stroke="#555" stroke-width="1" />
<line x1="38.6" y1="300.5" x2="38.6" y2="330.3" stroke="#000" stroke-width="1" />
<line x1="35.6" y1="300.5" x2="41.6" y2="300.5" stroke="#000" stroke-width="1" />
<line x1="73.4" y1="341.6" x2="73.4" y2="387.3" stroke="#000" stroke-width="1" />
<line x1="70.4" y1="341.6" x2="76.4" y2="341.6" stroke="#000" stroke-width="1" />
<line x1="79.6" y1="387" x2="79.6" y2="411" stroke="#000" stroke-width="1" />
<line x1="76.6" y1="387" x2="82.6" y2="387" stroke="#000" stroke-width="1" />
<line x1="97.9" y1="364.7" x2="97.9" y2="386.2" stroke="#000" stroke-width="1" />
<line x1="94.9" y1="364.7" x2="100.9" y2="364.7" stroke="#000" stroke-width="1" />
<line x1="56" y1="357" x2="56" y2="363.5" stroke="#000" stroke-width="1" />
<line x1="53" y1="357" x2="59" y2="357" stroke="#000" stroke-width="1" />
<line x1="93.3" y1="385" x2="93.3" y2="394.1" stroke="#000" stroke-width="1" />
<line x1="90.3" y1="385" x2="96.3" y2="385" stroke="#000" stroke-width="1" />
<line x1="205.2" y1="388" x2="205.2" y2="397.5" stroke="#000" stroke-width="1" />
<line x1="202.2" y1="388" x2="208.2" y2="388" stroke="#000" stroke-width="1" />
<line x1="209.6" y1="365" x2="209.6" y2="403.9" stroke="#000" stroke-width="1" />
<line x1="206.6" y1="365" x2="212.6" y2="365" stroke="#000" stroke-width="1" />
<line x1="116" y1="424" x2="116" y2="429.1" stroke="#000" stroke-width="1" />
<line x1="113" y1="424" x2="119" y2="424" stroke="#000" stroke-width="1" />
<line x1="155.5" y1="425" x2="155.5" y2="431.4" stroke="#000" stroke-width="1" />
<line x1="152.5" y1="425" x2="158.5" y2="425" stroke="#000" stroke-width="1" />
<line x1="190.6" y1="417" x2="190.6" y2="423.5" stroke="#000" stroke-width="1" />
<line x1="187.6" y1="417" x2="193.6" y2="417" stroke="#000" stroke-width="1" />
<line x1="46" y1="396" x2="46" y2="402" stroke="#000" stroke-width="1" />
<line x1="43" y1="396" x2="49" y2="396" stroke="#000" stroke-width="1" />
<line x1="84" y1="417" x2="84" y2="423.5" stroke="#000" stroke-width="1" />
<line x1="81" y1="417" x2="87" y2="417" stroke="#000" stroke-width="1" />
<line x1="147" y1="407" x2="147" y2="413.3" stroke="#000" stroke-width="1" />
<line x1="144" y1="407" x2="150" y2="407" stroke="#000" stroke-width="1" />
<line x1="40.2" y1="368.7" x2="40.2" y2="374.7" stroke="#000" stroke-width="0.9" />
<line x1="37.2" y1="374.7" x2="43.2" y2="374.7" stroke="#000" stroke-width="0.9" />
<line x1="49.9" y1="398.6" x2="49.9" y2="404.6" stroke="#000" stroke-width="0.9" />
<line x1="46.9" y1="404.6" x2="52.9" y2="404.6" stroke="#000" stroke-width="0.9" />
<line x1="59.4" y1="368.1" x2="59.4" y2="374.1" stroke="#000" stroke-width="0.9" />
<line x1="56.4" y1="374.1" x2="62.4" y2="374.1" stroke="#000" stroke-width="0.9" />
<line x1="68.9" y1="411" x2="68.9" y2="417" stroke="#000" stroke-width="0.9" />
<line x1="65.9" y1="417" x2="71.9" y2="417" stroke="#000" stroke-width="0.9" />
<line x1="78" y1="414" x2="78" y2="420" stroke="#000" stroke-width="0.9" />
<line x1="75" y1="420" x2="81" y2="420" stroke="#000" stroke-width="0.9" />
<line x1="87.7" y1="421.2" x2="87.7" y2="427.2" stroke="#000" stroke-width="0.9" />
<line x1="84.7" y1="427.2" x2="90.7" y2="427.2" stroke="#000" stroke-width="0.9" />
<line x1="96.7" y1="400.9" x2="96.7" y2="406.9" stroke="#000" stroke-width="0.9" />
<line x1="93.7" y1="406.9" x2="99.7" y2="406.9" stroke="#000" stroke-width="0.9" />
<line x1="105.8" y1="417.8" x2="105.8" y2="423.8" stroke="#000" stroke-width="0.9" />
<line x1="102.8" y1="423.8" x2="108.8" y2="423.8" stroke="#000" stroke-width="0.9" />
<line x1="116" y1="429.1" x2="116" y2="435.1" stroke="#000" stroke-width="0.9" />
<line x1="113" y1="435.1" x2="119" y2="435.1" stroke="#000" stroke-width="0.9" />
<line x1="124.6" y1="428" x2="124.6" y2="434" stroke="#000" stroke-width="0.9" />
<line x1="121.6" y1="434" x2="127.6" y2="434" stroke="#000" stroke-width="0.9" />
<line x1="134" y1="400.9" x2="134" y2="406.9" stroke="#000" stroke-width="0.9" />
<line x1="131" y1="406.9" x2="137" y2="406.9" stroke="#000" stroke-width="0.9" />
<line x1="143.6" y1="414.4" x2="143.6" y2="420.4" stroke="#000" stroke-width="0.9" />
<line x1="140.6" y1="420.4" x2="146.6" y2="420.4" stroke="#000" stroke-width="0.9" />
<line x1="152.6" y1="423.9" x2="152.6" y2="429.9" stroke="#000" stroke-width="0.9" />
<line x1="149.6" y1="429.9" x2="155.6" y2="429.9" stroke="#000" stroke-width="0.9" />
<line x1="162.3" y1="419" x2="162.3" y2="425" stroke="#000" stroke-width="0.9" />
<line x1="159.3" y1="425" x2="165.3" y2="425" stroke="#000" stroke-width="0.9" />
<line x1="171.4" y1="409.5" x2="171.4" y2="415.5" stroke="#000" stroke-width="0.9" />
<line x1="168.4" y1="415.5" x2="174.4" y2="415.5" stroke="#000" stroke-width="0.9" />
<line x1="181.1" y1="412.2" x2="181.1" y2="418.2" stroke="#000" stroke-width="0.9" />
<line x1="178.1" y1="418.2" x2="184.1" y2="418.2" stroke="#000" stroke-width="0.9" />
<line x1="190.6" y1="423.5" x2="190.6" y2="429.5" stroke="#000" stroke-width="0.9" />
<line x1="187.6" y1="429.5" x2="193.6" y2="429.5" stroke="#000" stroke-width="0.9" />
<line x1="199.7" y1="416.2" x2="199.7" y2="422.2" stroke="#000" stroke-width="0.9" />
<line x1="196.7" y1="422.2" x2="202.7" y2="422.2" stroke="#000" stroke-width="0.9" />
<line x1="209.4" y1="403.9" x2="209.4" y2="409.9" stroke="#000" stroke-width="0.9" />
<line x1="206.4" y1="409.9" x2="212.4" y2="409.9" stroke="#000" stroke-width="0.9" />
<line x1="221.2" y1="410.7" x2="221.2" y2="416.7" stroke="#000" stroke-width="0.9" />
<line x1="218.2" y1="416.7" x2="224.2" y2="416.7" stroke="#000" stroke-width="0.9" />
<line x1="40.2" y1="412.2" x2="40.2" y2="418.2" stroke="#555" stroke-width="0.9" />
<line x1="37.2" y1="418.2" x2="43.2" y2="418.2" stroke="#555" stroke-width="0.9" />
<line x1="51.5" y1="403.1" x2="51.5" y2="409.1" stroke="#555" stroke-width="0.9" />
<line x1="48.5" y1="409.1" x2="54.5" y2="409.1" stroke="#555" stroke-width="0.9" />
<line x1="61.7" y1="398.6" x2="61.7" y2="404.6" stroke="#555" stroke-width="0.9" />
<line x1="58.7" y1="404.6" x2="64.7" y2="404.6" stroke="#555" stroke-width="0.9" />
<line x1="70.7" y1="385" x2="70.7" y2="391" stroke="#555" stroke-width="0.9" />
<line x1="67.7" y1="391" x2="73.7" y2="391" stroke="#555" stroke-width="0.9" />
<line x1="79.3" y1="412.2" x2="79.3" y2="418.2" stroke="#555" stroke-width="0.9" />
<line x1="76.3" y1="418.2" x2="82.3" y2="418.2" stroke="#555" stroke-width="0.9" />
<line x1="88.4" y1="406.5" x2="88.4" y2="412.5" stroke="#555" stroke-width="0.9" />
<line x1="85.4" y1="412.5" x2="91.4" y2="412.5" stroke="#555" stroke-width="0.9" />
<line x1="97.9" y1="386.2" x2="97.9" y2="392.2" stroke="#555" stroke-width="0.9" />
<line x1="94.9" y1="392.2" x2="100.9" y2="392.2" stroke="#555" stroke-width="0.9" />
<line x1="106.9" y1="431.4" x2="106.9" y2="437.4" stroke="#555" stroke-width="0.9" />
<line x1="103.9" y1="437.4" x2="109.9" y2="437.4" stroke="#555" stroke-width="0.9" />
<line x1="117.1" y1="446.1" x2="117.1" y2="452.1" stroke="#555" stroke-width="0.9" />
<line x1="114.1" y1="452.1" x2="120.1" y2="452.1" stroke="#555" stroke-width="0.9" />
<line x1="127.3" y1="395.2" x2="127.3" y2="401.2" stroke="#555" stroke-width="0.9" />
<line x1="124.3" y1="401.2" x2="130.3" y2="401.2" stroke="#555" stroke-width="0.9" />
<line x1="135.9" y1="366.9" x2="135.9" y2="372.9" stroke="#555" stroke-width="0.9" />
<line x1="132.9" y1="372.9" x2="138.9" y2="372.9" stroke="#555" stroke-width="0.9" />
<line x1="145.4" y1="437.1" x2="145.4" y2="443.1" stroke="#555" stroke-width="0.9" />
<line x1="142.4" y1="443.1" x2="148.4" y2="443.1" stroke="#555" stroke-width="0.9" />
<line x1="155.5" y1="438.2" x2="155.5" y2="444.2" stroke="#555" stroke-width="0.9" />
<line x1="152.5" y1="444.2" x2="158.5" y2="444.2" stroke="#555" stroke-width="0.9" />
<line x1="166.9" y1="398.6" x2="166.9" y2="404.6" stroke="#555" stroke-width="0.9" />
<line x1="163.9" y1="404.6" x2="169.9" y2="404.6" stroke="#555" stroke-width="0.9" />
<line x1="176.6" y1="424.6" x2="176.6" y2="430.6" stroke="#555" stroke-width="0.9" />
<line x1="173.6" y1="430.6" x2="179.6" y2="430.6" stroke="#555" stroke-width="0.9" />
<line x1="186.1" y1="448.4" x2="186.1" y2="454.4" stroke="#555" stroke-width="0.9" />
<line x1="183.1" y1="454.4" x2="189.1" y2="454.4" stroke="#555" stroke-width="0.9" />
<line x1="196.3" y1="441.6" x2="196.3" y2="447.6" stroke="#555" stroke-width="0.9" />
<line x1="193.3" y1="447.6" x2="199.3" y2="447.6" stroke="#555" stroke-width="0.9" />
<line x1="203.6" y1="404.7" x2="203.6" y2="410.7" stroke="#555" stroke-width="0.9" />
<line x1="200.6" y1="410.7" x2="206.6" y2="410.7" stroke="#555" stroke-width="0.9" />
<line x1="213.2" y1="414.2" x2="213.2" y2="420.2" stroke="#555" stroke-width="0.9" />
<line x1="210.2" y1="420.2" x2="216.2" y2="420.2" stroke="#555" stroke-width="0.9" />
<polyline points="39,330.3 40.2,412.2 45.4,425.3 48.1,414 51.5,403.1 54.9,400.4 58.3,383.9 61.7,398.6 63.5,419.4 67.3,433.7 70.7,385 73.4,387.3 76.4,422.4 79.3,412.2 82.5,441.6 85.4,419 88.4,406.5 91.5,414.4 94.5,386.2 97.9,386.2 101.3,395.2 103.5,430.3 106.9,431.4 110.3,432.5 113.7,438.2 117.1,446.1 120,406.5 122.8,420.1 127.3,395.2 129.5,395.2 132.9,372.6 135.9,366.9 139.7,403.1 142,434.8 145.4,437.1 148.8,446.1 152.1,441.6 155.5,438.2 158.9,430.3 163.9,385.5 166.9,398.6 170.2,399.7 173.6,399.7 176.6,424.6 179.3,422.4 182.7,434.8 186.1,448.4 189.5,446.1 192.9,443.8 196.3,441.6 198.5,443.4 201.2,389 203.6,404.7 207.6,357.9 210.8,386.3 213.2,414.2 217.2,423.8 219.6,430.2" fill="none" stroke="#000" stroke-width="2" stroke-linejoin="round" stroke-dasharray="3.2,2.2"/>
<rect x="35.7" y="327" width="6.6" height="6.6" fill="#434343"/>
<rect x="36.9" y="408.9" width="6.6" height="6.6" fill="#434343"/>
<rect x="42.1" y="422" width="6.6" height="6.6" fill="#434343"/>
<rect x="44.8" y="410.7" width="6.6" height="6.6" fill="#434343"/>
<rect x="48.2" y="399.8" width="6.6" height="6.6" fill="#434343"/>
<rect x="51.6" y="397.1" width="6.6" height="6.6" fill="#434343"/>
<rect x="55" y="380.6" width="6.6" height="6.6" fill="#434343"/>
<rect x="58.4" y="395.3" width="6.6" height="6.6" fill="#434343"/>
<rect x="60.2" y="416.1" width="6.6" height="6.6" fill="#434343"/>
<rect x="64" y="430.4" width="6.6" height="6.6" fill="#434343"/>
<rect x="67.4" y="381.7" width="6.6" height="6.6" fill="#434343"/>
<rect x="70.1" y="384" width="6.6" height="6.6" fill="#434343"/>
<rect x="73.1" y="419.1" width="6.6" height="6.6" fill="#434343"/>
<rect x="76" y="408.9" width="6.6" height="6.6" fill="#434343"/>
<rect x="79.2" y="438.3" width="6.6" height="6.6" fill="#434343"/>
<rect x="82.1" y="415.7" width="6.6" height="6.6" fill="#434343"/>
<rect x="85.1" y="403.2" width="6.6" height="6.6" fill="#434343"/>
<rect x="88.2" y="411.1" width="6.6" height="6.6" fill="#434343"/>
<rect x="91.2" y="382.9" width="6.6" height="6.6" fill="#434343"/>
<rect x="94.6" y="382.9" width="6.6" height="6.6" fill="#434343"/>
<rect x="98" y="391.9" width="6.6" height="6.6" fill="#434343"/>
<rect x="100.2" y="427" width="6.6" height="6.6" fill="#434343"/>
<rect x="103.6" y="428.1" width="6.6" height="6.6" fill="#434343"/>
<rect x="107" y="429.2" width="6.6" height="6.6" fill="#434343"/>
<rect x="110.4" y="434.9" width="6.6" height="6.6" fill="#434343"/>
<rect x="113.8" y="442.8" width="6.6" height="6.6" fill="#434343"/>
<rect x="116.7" y="403.2" width="6.6" height="6.6" fill="#434343"/>
<rect x="119.5" y="416.8" width="6.6" height="6.6" fill="#434343"/>
<rect x="124" y="391.9" width="6.6" height="6.6" fill="#434343"/>
<rect x="126.2" y="391.9" width="6.6" height="6.6" fill="#434343"/>
<rect x="129.6" y="369.3" width="6.6" height="6.6" fill="#434343"/>
<rect x="132.6" y="363.6" width="6.6" height="6.6" fill="#434343"/>
<rect x="136.4" y="399.8" width="6.6" height="6.6" fill="#434343"/>
<rect x="138.7" y="431.5" width="6.6" height="6.6" fill="#434343"/>
<rect x="142.1" y="433.8" width="6.6" height="6.6" fill="#434343"/>
<rect x="145.5" y="442.8" width="6.6" height="6.6" fill="#434343"/>
<rect x="148.8" y="438.3" width="6.6" height="6.6" fill="#434343"/>
<rect x="152.2" y="434.9" width="6.6" height="6.6" fill="#434343"/>
<rect x="155.6" y="427" width="6.6" height="6.6" fill="#434343"/>
<rect x="160.6" y="382.2" width="6.6" height="6.6" fill="#434343"/>
<rect x="163.6" y="395.3" width="6.6" height="6.6" fill="#434343"/>
<rect x="166.9" y="396.4" width="6.6" height="6.6" fill="#434343"/>
<rect x="170.3" y="396.4" width="6.6" height="6.6" fill="#434343"/>
<rect x="173.3" y="421.3" width="6.6" height="6.6" fill="#434343"/>
<rect x="176" y="419.1" width="6.6" height="6.6" fill="#434343"/>
<rect x="179.4" y="431.5" width="6.6" height="6.6" fill="#434343"/>
<rect x="182.8" y="445.1" width="6.6" height="6.6" fill="#434343"/>
<rect x="186.2" y="442.8" width="6.6" height="6.6" fill="#434343"/>
<rect x="189.6" y="440.5" width="6.6" height="6.6" fill="#434343"/>
<rect x="193" y="438.3" width="6.6" height="6.6" fill="#434343"/>
<rect x="195.2" y="440.1" width="6.6" height="6.6" fill="#434343"/>
<rect x="197.9" y="385.7" width="6.6" height="6.6" fill="#434343"/>
<rect x="200.3" y="401.4" width="6.6" height="6.6" fill="#434343"/>
<rect x="204.3" y="354.6" width="6.6" height="6.6" fill="#434343"/>
<rect x="207.5" y="383" width="6.6" height="6.6" fill="#434343"/>
<rect x="209.9" y="410.9" width="6.6" height="6.6" fill="#434343"/>
<rect x="213.9" y="420.5" width="6.6" height="6.6" fill="#434343"/>
<rect x="216.3" y="426.9" width="6.6" height="6.6" fill="#434343"/>
<polyline points="40.2,368.7 43.6,412.2 45.8,402 49.9,398.6 52.6,383.9 56,363.5 59.4,368.1 62.8,377.1 65.5,388.4 68.9,411 71.9,417.8 74.8,415.6 78,414 81.6,428 84.3,423.5 87.7,421.2 90.6,419 93.3,394.1 96.7,400.9 100.1,398.6 102.9,409.9 105.8,417.8 108.7,407.6 112.6,413.3 116,429.1 119.4,430.3 122.3,423.5 124.6,428 127.7,412.2 130.5,409.9 134,400.9 137.4,403.1 140.4,408.8 143.6,414.4 147.2,413.3 149.9,418.5 152.6,423.9 155.5,431.4 158.9,428.5 162.3,419 165.3,420.1 168.4,409.9 171.4,409.5 174.8,412.2 178.2,412.2 181.1,412.2 184.3,416.7 187.2,414 190.6,423.5 193.6,424.6 197,423 199.7,416.2 203.1,414 205.2,397.5 209.4,403.9 214,404.7 218,403.9 221.2,410.7" fill="none" stroke="#000" stroke-width="2" stroke-linejoin="round" />
<circle cx="40.2" cy="368.7" r="3.4" fill="#000"/>
<circle cx="43.6" cy="412.2" r="3.4" fill="#000"/>
<circle cx="45.8" cy="402" r="3.4" fill="#000"/>
<circle cx="49.9" cy="398.6" r="3.4" fill="#000"/>
<circle cx="52.6" cy="383.9" r="3.4" fill="#000"/>
<circle cx="56" cy="363.5" r="3.4" fill="#000"/>
<circle cx="59.4" cy="368.1" r="3.4" fill="#000"/>
<circle cx="62.8" cy="377.1" r="3.4" fill="#000"/>
<circle cx="65.5" cy="388.4" r="3.4" fill="#000"/>
<circle cx="68.9" cy="411" r="3.4" fill="#000"/>
<circle cx="71.9" cy="417.8" r="3.4" fill="#000"/>
<circle cx="74.8" cy="415.6" r="3.4" fill="#000"/>
<circle cx="78" cy="414" r="3.4" fill="#000"/>
<circle cx="81.6" cy="428" r="3.4" fill="#000"/>
<circle cx="84.3" cy="423.5" r="3.4" fill="#000"/>
<circle cx="87.7" cy="421.2" r="3.4" fill="#000"/>
<circle cx="90.6" cy="419" r="3.4" fill="#000"/>
<circle cx="93.3" cy="394.1" r="3.4" fill="#000"/>
<circle cx="96.7" cy="400.9" r="3.4" fill="#000"/>
<circle cx="100.1" cy="398.6" r="3.4" fill="#000"/>
<circle cx="102.9" cy="409.9" r="3.4" fill="#000"/>
<circle cx="105.8" cy="417.8" r="3.4" fill="#000"/>
<circle cx="108.7" cy="407.6" r="3.4" fill="#000"/>
<circle cx="112.6" cy="413.3" r="3.4" fill="#000"/>
<circle cx="116" cy="429.1" r="3.4" fill="#000"/>
<circle cx="119.4" cy="430.3" r="3.4" fill="#000"/>
<circle cx="122.3" cy="423.5" r="3.4" fill="#000"/>
<circle cx="124.6" cy="428" r="3.4" fill="#000"/>
<circle cx="127.7" cy="412.2" r="3.4" fill="#000"/>
<circle cx="130.5" cy="409.9" r="3.4" fill="#000"/>
<circle cx="134" cy="400.9" r="3.4" fill="#000"/>
<circle cx="137.4" cy="403.1" r="3.4" fill="#000"/>
<circle cx="140.4" cy="408.8" r="3.4" fill="#000"/>
<circle cx="143.6" cy="414.4" r="3.4" fill="#000"/>
<circle cx="147.2" cy="413.3" r="3.4" fill="#000"/>
<circle cx="149.9" cy="418.5" r="3.4" fill="#000"/>
<circle cx="152.6" cy="423.9" r="3.4" fill="#000"/>
<circle cx="155.5" cy="431.4" r="3.4" fill="#000"/>
<circle cx="158.9" cy="428.5" r="3.4" fill="#000"/>
<circle cx="162.3" cy="419" r="3.4" fill="#000"/>
<circle cx="165.3" cy="420.1" r="3.4" fill="#000"/>
<circle cx="168.4" cy="409.9" r="3.4" fill="#000"/>
<circle cx="171.4" cy="409.5" r="3.4" fill="#000"/>
<circle cx="174.8" cy="412.2" r="3.4" fill="#000"/>
<circle cx="178.2" cy="412.2" r="3.4" fill="#000"/>
<circle cx="181.1" cy="412.2" r="3.4" fill="#000"/>
<circle cx="184.3" cy="416.7" r="3.4" fill="#000"/>
<circle cx="187.2" cy="414" r="3.4" fill="#000"/>
<circle cx="190.6" cy="423.5" r="3.4" fill="#000"/>
<circle cx="193.6" cy="424.6" r="3.4" fill="#000"/>
<circle cx="197" cy="423" r="3.4" fill="#000"/>
<circle cx="199.7" cy="416.2" r="3.4" fill="#000"/>
<circle cx="203.1" cy="414" r="3.4" fill="#000"/>
<circle cx="205.2" cy="397.5" r="3.4" fill="#000"/>
<circle cx="209.4" cy="403.9" r="3.4" fill="#000"/>
<circle cx="214" cy="404.7" r="3.4" fill="#000"/>
<circle cx="218" cy="403.9" r="3.4" fill="#000"/>
<circle cx="221.2" cy="410.7" r="3.4" fill="#000"/>
<line x1="110.2" y1="294.3" x2="113.6" y2="294.3" stroke="#111" stroke-width="1.8" />
<line x1="125.2" y1="294.3" x2="128.7" y2="294.3" stroke="#111" stroke-width="1.8" />
<rect x="116.2" y="291" width="6.6" height="6.6" fill="#434343"/>
<text x="132.8" y="297.8" style='font-family:"Liberation Sans", sans-serif;font-size:9.7px;font-weight:normal' text-anchor="start" fill="#000" stroke="#000" stroke-width="0.22">Unacclimated</text>
<line x1="108.2" y1="316.5" x2="129.7" y2="316.5" stroke="#000" stroke-width="2" />
<circle cx="119.5" cy="316.5" r="3.1" fill="#000"/>
<text x="132.8" y="320" style='font-family:"Liberation Sans", sans-serif;font-size:9.7px;font-weight:normal' text-anchor="start" fill="#000" stroke="#000" stroke-width="0.22">HA</text>
<text x="253.6" y="273.6" style='font-family:"Liberation Sans", sans-serif;font-size:15.3px;font-weight:bold' text-anchor="start" fill="#000">d</text>
<line x1="293.85" y1="290" x2="293.85" y2="467.6" stroke="#000" stroke-width="1.3" />
<line x1="288.35" y1="290.6" x2="293.85" y2="290.6" stroke="#000" stroke-width="1.3" />
<text x="285.6" y="294.2" style='font-family:"Liberation Sans", sans-serif;font-size:10px;font-weight:normal' text-anchor="end" fill="#000" stroke="#000" stroke-width="0.22">80</text>
<line x1="288.35" y1="349.4" x2="293.85" y2="349.4" stroke="#000" stroke-width="1.3" />
<text x="285.6" y="353" style='font-family:"Liberation Sans", sans-serif;font-size:10px;font-weight:normal' text-anchor="end" fill="#000" stroke="#000" stroke-width="0.22">60</text>
<line x1="288.35" y1="408.2" x2="293.85" y2="408.2" stroke="#000" stroke-width="1.3" />
<text x="285.6" y="411.8" style='font-family:"Liberation Sans", sans-serif;font-size:10px;font-weight:normal' text-anchor="end" fill="#000" stroke="#000" stroke-width="0.22">40</text>
<line x1="288.35" y1="467" x2="293.85" y2="467" stroke="#000" stroke-width="1.3" />
<text x="285.6" y="470.6" style='font-family:"Liberation Sans", sans-serif;font-size:10px;font-weight:normal' text-anchor="end" fill="#000" stroke="#000" stroke-width="0.22">20</text>
<line x1="293.25" y1="467" x2="466" y2="467" stroke="#000" stroke-width="1.3" />
<line x1="293.85" y1="467" x2="293.85" y2="472.5" stroke="#000" stroke-width="1.3" />
<text x="293.85" y="483" style='font-family:"Liberation Sans", sans-serif;font-size:10px;font-weight:normal' text-anchor="middle" fill="#000" stroke="#000" stroke-width="0.22">10</text>
<line x1="328.16" y1="467" x2="328.16" y2="472.5" stroke="#000" stroke-width="1.3" />
<text x="328.16" y="483" style='font-family:"Liberation Sans", sans-serif;font-size:10px;font-weight:normal' text-anchor="middle" fill="#000" stroke="#000" stroke-width="0.22">15</text>
<line x1="362.47" y1="467" x2="362.47" y2="472.5" stroke="#000" stroke-width="1.3" />
<text x="362.47" y="483" style='font-family:"Liberation Sans", sans-serif;font-size:10px;font-weight:normal' text-anchor="middle" fill="#000" stroke="#000" stroke-width="0.22">20</text>
<line x1="396.78" y1="467" x2="396.78" y2="472.5" stroke="#000" stroke-width="1.3" />
<text x="396.78" y="483" style='font-family:"Liberation Sans", sans-serif;font-size:10px;font-weight:normal' text-anchor="middle" fill="#000" stroke="#000" stroke-width="0.22">25</text>
<line x1="431.09" y1="467" x2="431.09" y2="472.5" stroke="#000" stroke-width="1.3" />
<text x="431.09" y="483" style='font-family:"Liberation Sans", sans-serif;font-size:10px;font-weight:normal' text-anchor="middle" fill="#000" stroke="#000" stroke-width="0.22">30</text>
<line x1="465.4" y1="467" x2="465.4" y2="472.5" stroke="#000" stroke-width="1.3" />
<text x="465.4" y="483" style='font-family:"Liberation Sans", sans-serif;font-size:10px;font-weight:normal' text-anchor="middle" fill="#000" stroke="#000" stroke-width="0.22">35</text>
<text x="377.6" y="497" style='font-family:"Liberation Serif", serif;font-size:11.2px;font-weight:normal' text-anchor="middle" fill="#000" stroke="#000" stroke-width="0.22">Food consumption (g)</text>
<text x="265.6" y="379.9" style='font-family:"Liberation Serif", serif;font-size:11.2px;font-weight:normal' text-anchor="middle" fill="#000" stroke="#000" stroke-width="0.22" transform="rotate(-90 265.6 379.9)">Water consumed (ml)</text>
<rect x="365.6" y="285.5" width="95.9" height="40.6" fill="none" stroke="#000" stroke-width="1.1"/>
<circle cx="377.8" cy="296.6" r="3.5" fill="none" stroke="#000" stroke-width="1"/>
<text x="388.9" y="300.1" style='font-family:"Liberation Sans", sans-serif;font-size:9.7px;font-weight:normal' text-anchor="start" fill="#000" stroke="#000" stroke-width="0.22">Unacclimated</text>
<circle cx="377.8" cy="316.9" r="4" fill="#000"/>
<text x="388.9" y="320.4" style='font-family:"Liberation Sans", sans-serif;font-size:9.7px;font-weight:normal' text-anchor="start" fill="#000" stroke="#000" stroke-width="0.22">HA</text>
<text x="418.4" y="341.6" style='font-family:"Liberation Serif", serif;font-size:11px;font-weight:normal' text-anchor="start" fill="#000" stroke="#000" stroke-width="0.22">r = 0.52</text>
<text x="418.4" y="358.9" style='font-family:"Liberation Serif", serif;font-size:11px;font-weight:normal' text-anchor="start" fill="#000" stroke="#000" stroke-width="0.22">p = 0.06</text>
<line x1="293.2" y1="343.8" x2="466.5" y2="455.7" stroke="#000" stroke-width="1.1" />
<circle cx="346.4" cy="318.7" r="4.2" fill="#000"/>
<circle cx="356.8" cy="356.4" r="4.2" fill="#000"/>
<circle cx="405.5" cy="356.4" r="4.2" fill="#000"/>
<circle cx="328.4" cy="406.5" r="4.2" fill="#000"/>
<circle cx="360.1" cy="413.2" r="4.2" fill="#000"/>
<circle cx="424.4" cy="414" r="3.6" fill="none" stroke="#000" stroke-width="1.05"/>
<circle cx="438" cy="418" r="3.6" fill="none" stroke="#000" stroke-width="1.05"/>
<circle cx="393.7" cy="426.7" r="3.6" fill="none" stroke="#000" stroke-width="1.05"/>
<circle cx="389.3" cy="431.6" r="3.6" fill="none" stroke="#000" stroke-width="1.05"/>
<circle cx="414.9" cy="427.3" r="3.6" fill="none" stroke="#000" stroke-width="1.05"/>
<circle cx="417.3" cy="438.7" r="3.6" fill="none" stroke="#000" stroke-width="1.05"/>
<circle cx="418.3" cy="447.7" r="3.6" fill="none" stroke="#000" stroke-width="1.05"/>
<circle cx="402" cy="450" r="3.6" fill="none" stroke="#000" stroke-width="1.05"/>
<text x="2.5" y="532.7" style='font-family:"Liberation Sans", sans-serif;font-size:16.2px;font-weight:bold' text-anchor="start" fill="#000">e</text>
<line x1="38.55" y1="537.9" x2="38.55" y2="717" stroke="#000" stroke-width="1.3" />
<line x1="33.05" y1="538.5" x2="38.55" y2="538.5" stroke="#000" stroke-width="1.3" />
<text x="30" y="542.5" style='font-family:"Liberation Sans", sans-serif;font-size:10px;font-weight:normal' text-anchor="end" fill="#000" stroke="#000" stroke-width="0.22">40</text>
<line x1="33.05" y1="568.15" x2="38.55" y2="568.15" stroke="#000" stroke-width="1.3" />
<text x="30" y="572.15" style='font-family:"Liberation Sans", sans-serif;font-size:10px;font-weight:normal' text-anchor="end" fill="#000" stroke="#000" stroke-width="0.22">35</text>
<line x1="33.05" y1="597.8" x2="38.55" y2="597.8" stroke="#000" stroke-width="1.3" />
<text x="30" y="601.8" style='font-family:"Liberation Sans", sans-serif;font-size:10px;font-weight:normal' text-anchor="end" fill="#000" stroke="#000" stroke-width="0.22">30</text>
<line x1="33.05" y1="627.45" x2="38.55" y2="627.45" stroke="#000" stroke-width="1.3" />
<text x="30" y="631.45" style='font-family:"Liberation Sans", sans-serif;font-size:10px;font-weight:normal' text-anchor="end" fill="#000" stroke="#000" stroke-width="0.22">25</text>
<line x1="33.05" y1="657.1" x2="38.55" y2="657.1" stroke="#000" stroke-width="1.3" />
<text x="30" y="661.1" style='font-family:"Liberation Sans", sans-serif;font-size:10px;font-weight:normal' text-anchor="end" fill="#000" stroke="#000" stroke-width="0.22">20</text>
<line x1="33.05" y1="686.75" x2="38.55" y2="686.75" stroke="#000" stroke-width="1.3" />
<text x="30" y="690.75" style='font-family:"Liberation Sans", sans-serif;font-size:10px;font-weight:normal' text-anchor="end" fill="#000" stroke="#000" stroke-width="0.22">15</text>
<line x1="33.05" y1="716.4" x2="38.55" y2="716.4" stroke="#000" stroke-width="1.3" />
<text x="30" y="720.4" style='font-family:"Liberation Sans", sans-serif;font-size:10px;font-weight:normal' text-anchor="end" fill="#000" stroke="#000" stroke-width="0.22">10</text>
<line x1="37.95" y1="716.4" x2="217" y2="716.4" stroke="#000" stroke-width="1.3" />
<line x1="38.55" y1="716.4" x2="38.55" y2="721.9" stroke="#000" stroke-width="1.3" />
<text x="38.55" y="733.6" style='font-family:"Liberation Sans", sans-serif;font-size:10px;font-weight:normal' text-anchor="middle" fill="#000" stroke="#000" stroke-width="0.22">-5</text>
<line x1="60.78" y1="716.4" x2="60.78" y2="721.9" stroke="#000" stroke-width="1.3" />
<text x="60.78" y="733.6" style='font-family:"Liberation Sans", sans-serif;font-size:10px;font-weight:normal' text-anchor="middle" fill="#000" stroke="#000" stroke-width="0.22">-4</text>
<line x1="83.01" y1="716.4" x2="83.01" y2="721.9" stroke="#000" stroke-width="1.3" />
<text x="83.01" y="733.6" style='font-family:"Liberation Sans", sans-serif;font-size:10px;font-weight:normal' text-anchor="middle" fill="#000" stroke="#000" stroke-width="0.22">-3</text>
<line x1="105.24" y1="716.4" x2="105.24" y2="721.9" stroke="#000" stroke-width="1.3" />
<text x="105.24" y="733.6" style='font-family:"Liberation Sans", sans-serif;font-size:10px;font-weight:normal' text-anchor="middle" fill="#000" stroke="#000" stroke-width="0.22">-2</text>
<line x1="127.47" y1="716.4" x2="127.47" y2="721.9" stroke="#000" stroke-width="1.3" />
<text x="127.47" y="733.6" style='font-family:"Liberation Sans", sans-serif;font-size:10px;font-weight:normal' text-anchor="middle" fill="#000" stroke="#000" stroke-width="0.22">-1</text>
<line x1="149.7" y1="716.4" x2="149.7" y2="721.9" stroke="#000" stroke-width="1.3" />
<text x="149.7" y="733.6" style='font-family:"Liberation Sans", sans-serif;font-size:10px;font-weight:normal' text-anchor="middle" fill="#000" stroke="#000" stroke-width="0.22">0</text>
<line x1="171.93" y1="716.4" x2="171.93" y2="721.9" stroke="#000" stroke-width="1.3" />
<text x="171.93" y="733.6" style='font-family:"Liberation Sans", sans-serif;font-size:10px;font-weight:normal' text-anchor="middle" fill="#000" stroke="#000" stroke-width="0.22">1</text>
<line x1="194.16" y1="716.4" x2="194.16" y2="721.9" stroke="#000" stroke-width="1.3" />
<text x="194.16" y="733.6" style='font-family:"Liberation Sans", sans-serif;font-size:10px;font-weight:normal' text-anchor="middle" fill="#000" stroke="#000" stroke-width="0.22">2</text>
<line x1="216.39" y1="716.4" x2="216.39" y2="721.9" stroke="#000" stroke-width="1.3" />
<text x="216.39" y="733.6" style='font-family:"Liberation Sans", sans-serif;font-size:10px;font-weight:normal' text-anchor="middle" fill="#000" stroke="#000" stroke-width="0.22">3</text>
<text x="127.5" y="748.5" style='font-family:"Liberation Serif", serif;font-size:11.2px;font-weight:normal' text-anchor="middle" fill="#000" stroke="#000" stroke-width="0.22">Change in body weight (g)</text>
<text x="9.4" y="630.2" style='font-family:"Liberation Serif", serif;font-size:11.2px;font-weight:normal' text-anchor="middle" fill="#000" stroke="#000" stroke-width="0.22" transform="rotate(-90 9.4 630.2)">Food consumption (g)</text>
<rect x="48.4" y="539.2" width="88.8" height="36" fill="none" stroke="#000" stroke-width="1.1"/>
<circle cx="61.1" cy="550.1" r="3.5" fill="none" stroke="#000" stroke-width="1"/>
<text x="69.9" y="553.6" style='font-family:"Liberation Sans", sans-serif;font-size:9.7px;font-weight:normal' text-anchor="start" fill="#000" stroke="#000" stroke-width="0.22">Unacclimated</text>
<circle cx="61.1" cy="566.9" r="4" fill="#000"/>
<text x="69.9" y="570.4" style='font-family:"Liberation Sans", sans-serif;font-size:9.7px;font-weight:normal' text-anchor="start" fill="#000" stroke="#000" stroke-width="0.22">HA</text>
<text x="51.5" y="596.6" style='font-family:"Liberation Serif", serif;font-size:11px;font-weight:normal' text-anchor="start" fill="#000" stroke="#000" stroke-width="0.22">r = 0.65</text>
<text x="51.5" y="613.3" style='font-family:"Liberation Serif", serif;font-size:11px;font-weight:normal' text-anchor="start" fill="#000" stroke="#000" stroke-width="0.22">p = 0.016</text>
<line x1="38.3" y1="673" x2="190.9" y2="607.9" stroke="#000" stroke-width="1.1" />
<circle cx="40.1" cy="661.1" r="4.2" fill="#000"/>
<circle cx="79.9" cy="657.9" r="4.2" fill="#000"/>
<circle cx="95.8" cy="618.9" r="4.2" fill="#000"/>
<circle cx="113.9" cy="684.9" r="4.2" fill="#000"/>
<circle cx="138.9" cy="670.2" r="4.2" fill="#000"/>
<circle cx="146.7" cy="621.4" r="3.6" fill="none" stroke="#000" stroke-width="1.05"/>
<circle cx="155.7" cy="632" r="3.6" fill="none" stroke="#000" stroke-width="1.05"/>
<circle cx="168.8" cy="603" r="3.6" fill="none" stroke="#000" stroke-width="1.05"/>
<circle cx="168.8" cy="607.9" r="3.6" fill="none" stroke="#000" stroke-width="1.05"/>
<circle cx="180.3" cy="591.1" r="3.6" fill="none" stroke="#000" stroke-width="1.05"/>
<circle cx="190.9" cy="610.7" r="3.6" fill="none" stroke="#000" stroke-width="1.05"/>
<circle cx="189.3" cy="628.8" r="3.6" fill="none" stroke="#000" stroke-width="1.05"/>
</svg></div>
</body></html>
